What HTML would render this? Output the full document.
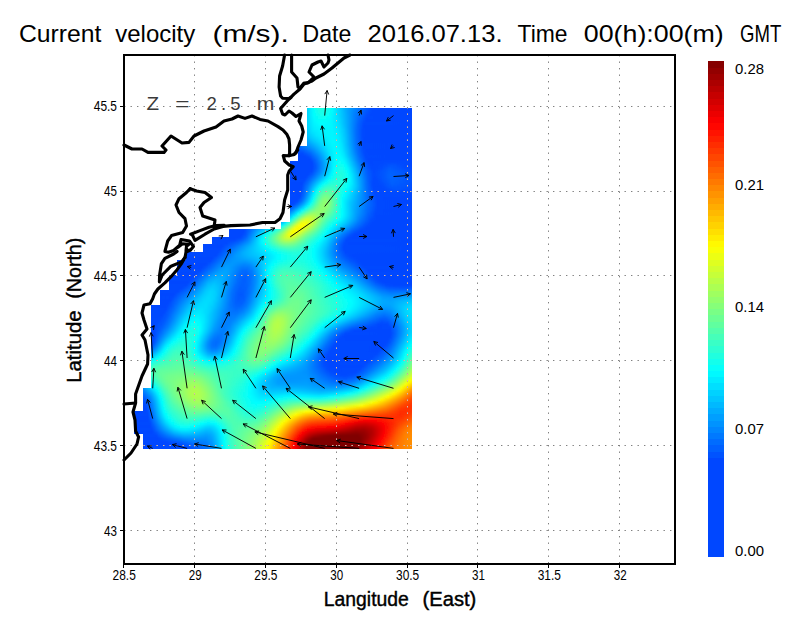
<!DOCTYPE html>
<html lang="en">
<head>
<meta charset="utf-8">
<title>Current velocity (m/s)</title>
<style>
html,body{margin:0;padding:0;background:#fff;}
body{width:800px;height:618px;overflow:hidden;}
svg{display:block;font-family:"Liberation Sans",sans-serif;}
</style>
</head>
<body>
<svg width="800" height="618" viewBox="0 0 800 618">
<rect width="800" height="618" fill="#fff"/>
<defs>
<clipPath id="msk"><path d="M412 108 L307 108 L307 116 L307 123 L307 131 L307 138 L307 146 L298 146 L298 153 L298 161 L290 161 L290 169 L290 176 L290 184 L290 191 L290 199 L290 206 L290 214 L290 222 L281 222 L281 229 L229 229 L229 237 L212 237 L212 244 L203 244 L203 252 L186 252 L186 260 L177 260 L177 267 L177 275 L169 275 L169 282 L169 290 L160 290 L160 297 L160 305 L151 305 L151 313 L151 320 L151 328 L151 335 L151 343 L151 350 L151 358 L151 366 L151 373 L151 381 L151 388 L143 388 L143 396 L143 403 L143 411 L134 411 L134 419 L134 426 L134 434 L143 434 L143 441 L143 449 L412 449Z"/></clipPath>
<filter id="vb" x="0" y="0" width="1" height="1" filterUnits="objectBoundingBox"><feGaussianBlur stdDeviation="0 1.2"/></filter>
<linearGradient id="r0" x1="0" x2="1" y1="0" y2="0"><stop offset="0.0000" stop-color="#0047ff"/><stop offset="0.4507" stop-color="#0049ff"/><stop offset="0.5000" stop-color="#005bff"/><stop offset="0.5563" stop-color="#0054ff"/><stop offset="0.5775" stop-color="#0068ff"/><stop offset="0.5986" stop-color="#0092ff"/><stop offset="0.6408" stop-color="#00f9ff"/><stop offset="0.6549" stop-color="#12ffed"/><stop offset="0.6690" stop-color="#20ffdf"/><stop offset="0.6831" stop-color="#22ffdd"/><stop offset="0.7042" stop-color="#0cfff3"/><stop offset="0.7113" stop-color="#00ffff"/><stop offset="0.7535" stop-color="#00b2ff"/><stop offset="0.8169" stop-color="#006aff"/><stop offset="0.8521" stop-color="#004aff"/><stop offset="1.0000" stop-color="#0047ff"/></linearGradient>
<linearGradient id="r1" x1="0" x2="1" y1="0" y2="0"><stop offset="0.0000" stop-color="#0047ff"/><stop offset="0.4507" stop-color="#0048ff"/><stop offset="0.5000" stop-color="#005aff"/><stop offset="0.5563" stop-color="#0054ff"/><stop offset="0.5775" stop-color="#0068ff"/><stop offset="0.6056" stop-color="#00a4ff"/><stop offset="0.6408" stop-color="#00f8ff"/><stop offset="0.6479" stop-color="#06fff9"/><stop offset="0.6690" stop-color="#1effe1"/><stop offset="0.6901" stop-color="#1bffe4"/><stop offset="0.7113" stop-color="#00feff"/><stop offset="0.7535" stop-color="#00b3ff"/><stop offset="0.8099" stop-color="#006fff"/><stop offset="0.8521" stop-color="#0049ff"/><stop offset="1.0000" stop-color="#0047ff"/></linearGradient>
<linearGradient id="r2" x1="0" x2="1" y1="0" y2="0"><stop offset="0.0000" stop-color="#0047ff"/><stop offset="0.4577" stop-color="#0048ff"/><stop offset="0.5000" stop-color="#0059ff"/><stop offset="0.5563" stop-color="#0054ff"/><stop offset="0.5704" stop-color="#005eff"/><stop offset="0.5915" stop-color="#0083ff"/><stop offset="0.6338" stop-color="#00e9ff"/><stop offset="0.6479" stop-color="#04fffb"/><stop offset="0.6690" stop-color="#19ffe6"/><stop offset="0.6901" stop-color="#16ffe9"/><stop offset="0.7113" stop-color="#00fcff"/><stop offset="0.7676" stop-color="#00a0ff"/><stop offset="0.8239" stop-color="#005cff"/><stop offset="0.8521" stop-color="#0047ff"/><stop offset="1.0000" stop-color="#0047ff"/></linearGradient>
<linearGradient id="r3" x1="0" x2="1" y1="0" y2="0"><stop offset="0.0000" stop-color="#0047ff"/><stop offset="0.4648" stop-color="#0048ff"/><stop offset="0.5070" stop-color="#0058ff"/><stop offset="0.5563" stop-color="#0053ff"/><stop offset="0.5775" stop-color="#0068ff"/><stop offset="0.6056" stop-color="#00a6ff"/><stop offset="0.6338" stop-color="#00e8ff"/><stop offset="0.6479" stop-color="#01fffe"/><stop offset="0.6690" stop-color="#13ffec"/><stop offset="0.6901" stop-color="#11ffee"/><stop offset="0.7042" stop-color="#04fffb"/><stop offset="0.7183" stop-color="#00f0ff"/><stop offset="0.7887" stop-color="#0082ff"/><stop offset="0.8310" stop-color="#0051ff"/><stop offset="0.8451" stop-color="#0047ff"/><stop offset="1.0000" stop-color="#0047ff"/></linearGradient>
<linearGradient id="r4" x1="0" x2="1" y1="0" y2="0"><stop offset="0.0000" stop-color="#0047ff"/><stop offset="0.4718" stop-color="#0047ff"/><stop offset="0.5070" stop-color="#0056ff"/><stop offset="0.5563" stop-color="#0053ff"/><stop offset="0.5775" stop-color="#0068ff"/><stop offset="0.5986" stop-color="#0095ff"/><stop offset="0.6268" stop-color="#00d9ff"/><stop offset="0.6479" stop-color="#00fcff"/><stop offset="0.6761" stop-color="#0efff1"/><stop offset="0.7042" stop-color="#00ffff"/><stop offset="0.7324" stop-color="#00dcff"/><stop offset="0.8028" stop-color="#006bff"/><stop offset="0.8310" stop-color="#004bff"/><stop offset="0.8592" stop-color="#0047ff"/><stop offset="1.0000" stop-color="#0047ff"/></linearGradient>
<linearGradient id="r5" x1="0" x2="1" y1="0" y2="0"><stop offset="0.0000" stop-color="#0047ff"/><stop offset="0.4789" stop-color="#0047ff"/><stop offset="0.5141" stop-color="#0054ff"/><stop offset="0.5563" stop-color="#0052ff"/><stop offset="0.5704" stop-color="#005eff"/><stop offset="0.5915" stop-color="#0085ff"/><stop offset="0.6268" stop-color="#00d9ff"/><stop offset="0.6479" stop-color="#00f8ff"/><stop offset="0.6620" stop-color="#04fffb"/><stop offset="0.6901" stop-color="#05fffa"/><stop offset="0.7113" stop-color="#00f6ff"/><stop offset="0.7394" stop-color="#00d5ff"/><stop offset="0.8099" stop-color="#005dff"/><stop offset="0.8310" stop-color="#0047ff"/><stop offset="1.0000" stop-color="#0047ff"/></linearGradient>
<linearGradient id="r6" x1="0" x2="1" y1="0" y2="0"><stop offset="0.0000" stop-color="#0047ff"/><stop offset="0.4859" stop-color="#0047ff"/><stop offset="0.5211" stop-color="#0051ff"/><stop offset="0.5563" stop-color="#0052ff"/><stop offset="0.5775" stop-color="#006aff"/><stop offset="0.5986" stop-color="#0097ff"/><stop offset="0.6268" stop-color="#00d8ff"/><stop offset="0.6479" stop-color="#00f4ff"/><stop offset="0.6690" stop-color="#00ffff"/><stop offset="0.7042" stop-color="#00faff"/><stop offset="0.7324" stop-color="#00e2ff"/><stop offset="0.7676" stop-color="#00a6ff"/><stop offset="0.8028" stop-color="#0064ff"/><stop offset="0.8239" stop-color="#0049ff"/><stop offset="1.0000" stop-color="#0047ff"/></linearGradient>
<linearGradient id="r7" x1="0" x2="1" y1="0" y2="0"><stop offset="0.0000" stop-color="#0047ff"/><stop offset="0.5000" stop-color="#0049ff"/><stop offset="0.5563" stop-color="#0052ff"/><stop offset="0.5704" stop-color="#0060ff"/><stop offset="0.5915" stop-color="#0087ff"/><stop offset="0.6268" stop-color="#00d6ff"/><stop offset="0.6479" stop-color="#00f0ff"/><stop offset="0.6761" stop-color="#00fbff"/><stop offset="0.7113" stop-color="#00f6ff"/><stop offset="0.7394" stop-color="#00dcff"/><stop offset="0.7746" stop-color="#0099ff"/><stop offset="0.8028" stop-color="#0062ff"/><stop offset="0.8239" stop-color="#0047ff"/><stop offset="1.0000" stop-color="#0047ff"/></linearGradient>
<linearGradient id="r8" x1="0" x2="1" y1="0" y2="0"><stop offset="0.0000" stop-color="#0047ff"/><stop offset="0.5352" stop-color="#004aff"/><stop offset="0.5634" stop-color="#0058ff"/><stop offset="0.5845" stop-color="#0079ff"/><stop offset="0.6268" stop-color="#00d3ff"/><stop offset="0.6479" stop-color="#00ecff"/><stop offset="0.6761" stop-color="#00f7ff"/><stop offset="0.7113" stop-color="#00f6ff"/><stop offset="0.7324" stop-color="#00e8ff"/><stop offset="0.7535" stop-color="#00c7ff"/><stop offset="0.7958" stop-color="#006dff"/><stop offset="0.8169" stop-color="#004dff"/><stop offset="0.8310" stop-color="#0047ff"/><stop offset="1.0000" stop-color="#0047ff"/></linearGradient>
<linearGradient id="r9" x1="0" x2="1" y1="0" y2="0"><stop offset="0.0000" stop-color="#0047ff"/><stop offset="0.5423" stop-color="#0049ff"/><stop offset="0.5634" stop-color="#0058ff"/><stop offset="0.5845" stop-color="#0078ff"/><stop offset="0.6197" stop-color="#00c1ff"/><stop offset="0.6408" stop-color="#00e0ff"/><stop offset="0.6761" stop-color="#00f4ff"/><stop offset="0.7113" stop-color="#00f7ff"/><stop offset="0.7324" stop-color="#00ebff"/><stop offset="0.7535" stop-color="#00caff"/><stop offset="0.7958" stop-color="#006dff"/><stop offset="0.8169" stop-color="#004dff"/><stop offset="0.8310" stop-color="#0047ff"/><stop offset="1.0000" stop-color="#0047ff"/></linearGradient>
<linearGradient id="r10" x1="0" x2="1" y1="0" y2="0"><stop offset="0.0000" stop-color="#0047ff"/><stop offset="0.5423" stop-color="#0047ff"/><stop offset="0.5634" stop-color="#0057ff"/><stop offset="0.5845" stop-color="#0076ff"/><stop offset="0.6268" stop-color="#00c6ff"/><stop offset="0.6549" stop-color="#00e4ff"/><stop offset="0.6972" stop-color="#00f7ff"/><stop offset="0.7254" stop-color="#00f3ff"/><stop offset="0.7394" stop-color="#00e5ff"/><stop offset="0.7606" stop-color="#00beff"/><stop offset="0.7958" stop-color="#006eff"/><stop offset="0.8169" stop-color="#004dff"/><stop offset="0.8310" stop-color="#0047ff"/><stop offset="1.0000" stop-color="#0047ff"/></linearGradient>
<linearGradient id="r11" x1="0" x2="1" y1="0" y2="0"><stop offset="0.0000" stop-color="#0047ff"/><stop offset="0.5493" stop-color="#0048ff"/><stop offset="0.5775" stop-color="#0067ff"/><stop offset="0.6338" stop-color="#00c4ff"/><stop offset="0.6690" stop-color="#00e5ff"/><stop offset="0.7113" stop-color="#00f9ff"/><stop offset="0.7324" stop-color="#00f0ff"/><stop offset="0.7535" stop-color="#00d0ff"/><stop offset="0.7958" stop-color="#006fff"/><stop offset="0.8169" stop-color="#004eff"/><stop offset="0.8239" stop-color="#0047ff"/><stop offset="1.0000" stop-color="#0047ff"/></linearGradient>
<linearGradient id="r12" x1="0" x2="1" y1="0" y2="0"><stop offset="0.0000" stop-color="#0047ff"/><stop offset="0.5493" stop-color="#0047ff"/><stop offset="0.5775" stop-color="#0062ff"/><stop offset="0.6479" stop-color="#00c6ff"/><stop offset="0.6972" stop-color="#00f2ff"/><stop offset="0.7183" stop-color="#00f9ff"/><stop offset="0.7394" stop-color="#00eaff"/><stop offset="0.7606" stop-color="#00c3ff"/><stop offset="0.7958" stop-color="#0070ff"/><stop offset="0.8169" stop-color="#004fff"/><stop offset="0.8239" stop-color="#0047ff"/><stop offset="1.0000" stop-color="#0047ff"/></linearGradient>
<linearGradient id="r13" x1="0" x2="1" y1="0" y2="0"><stop offset="0.0000" stop-color="#0047ff"/><stop offset="0.5563" stop-color="#0047ff"/><stop offset="0.5986" stop-color="#0073ff"/><stop offset="0.6831" stop-color="#00e0ff"/><stop offset="0.7113" stop-color="#00f7ff"/><stop offset="0.7324" stop-color="#00f4ff"/><stop offset="0.7465" stop-color="#00e3ff"/><stop offset="0.7746" stop-color="#00a4ff"/><stop offset="0.7958" stop-color="#0072ff"/><stop offset="0.8169" stop-color="#0050ff"/><stop offset="0.8239" stop-color="#0048ff"/><stop offset="1.0000" stop-color="#0047ff"/></linearGradient>
<linearGradient id="r14" x1="0" x2="1" y1="0" y2="0"><stop offset="0.0000" stop-color="#0047ff"/><stop offset="0.5634" stop-color="#0047ff"/><stop offset="0.6056" stop-color="#006bff"/><stop offset="0.6479" stop-color="#00a1ff"/><stop offset="0.6972" stop-color="#00e8ff"/><stop offset="0.7183" stop-color="#00f8ff"/><stop offset="0.7324" stop-color="#00f6ff"/><stop offset="0.7465" stop-color="#00e6ff"/><stop offset="0.7676" stop-color="#00b9ff"/><stop offset="0.7958" stop-color="#0075ff"/><stop offset="0.8169" stop-color="#0051ff"/><stop offset="0.8239" stop-color="#0048ff"/><stop offset="1.0000" stop-color="#0047ff"/></linearGradient>
<linearGradient id="r15" x1="0" x2="1" y1="0" y2="0"><stop offset="0.0000" stop-color="#0047ff"/><stop offset="0.5775" stop-color="#0048ff"/><stop offset="0.6127" stop-color="#0060ff"/><stop offset="0.6408" stop-color="#0082ff"/><stop offset="0.6972" stop-color="#00e2ff"/><stop offset="0.7183" stop-color="#00f7ff"/><stop offset="0.7324" stop-color="#00f8ff"/><stop offset="0.7465" stop-color="#00eaff"/><stop offset="0.7676" stop-color="#00beff"/><stop offset="0.7958" stop-color="#0078ff"/><stop offset="0.8169" stop-color="#0052ff"/><stop offset="0.8310" stop-color="#0047ff"/><stop offset="1.0000" stop-color="#0047ff"/></linearGradient>
<linearGradient id="r16" x1="0" x2="1" y1="0" y2="0"><stop offset="0.0000" stop-color="#0047ff"/><stop offset="0.6056" stop-color="#0049ff"/><stop offset="0.6338" stop-color="#0064ff"/><stop offset="0.6620" stop-color="#0095ff"/><stop offset="0.7042" stop-color="#00e6ff"/><stop offset="0.7254" stop-color="#00faff"/><stop offset="0.7394" stop-color="#00f6ff"/><stop offset="0.7535" stop-color="#00e3ff"/><stop offset="0.8028" stop-color="#006eff"/><stop offset="0.8239" stop-color="#004cff"/><stop offset="0.8380" stop-color="#0047ff"/><stop offset="1.0000" stop-color="#0047ff"/></linearGradient>
<linearGradient id="r17" x1="0" x2="1" y1="0" y2="0"><stop offset="0.0000" stop-color="#0047ff"/><stop offset="0.6197" stop-color="#0047ff"/><stop offset="0.6338" stop-color="#0053ff"/><stop offset="0.6620" stop-color="#0085ff"/><stop offset="0.7042" stop-color="#00e1ff"/><stop offset="0.7254" stop-color="#00fcff"/><stop offset="0.7394" stop-color="#00fbff"/><stop offset="0.7535" stop-color="#00eaff"/><stop offset="0.7817" stop-color="#00a8ff"/><stop offset="0.8099" stop-color="#0066ff"/><stop offset="0.8310" stop-color="#0048ff"/><stop offset="1.0000" stop-color="#0047ff"/></linearGradient>
<linearGradient id="r18" x1="0" x2="1" y1="0" y2="0"><stop offset="0.0000" stop-color="#0047ff"/><stop offset="0.6338" stop-color="#0047ff"/><stop offset="0.6549" stop-color="#0069ff"/><stop offset="0.7113" stop-color="#00ebff"/><stop offset="0.7254" stop-color="#00feff"/><stop offset="0.7465" stop-color="#00fcff"/><stop offset="0.7606" stop-color="#00e6ff"/><stop offset="0.8028" stop-color="#007cff"/><stop offset="0.8239" stop-color="#0055ff"/><stop offset="0.8380" stop-color="#0047ff"/><stop offset="1.0000" stop-color="#0047ff"/></linearGradient>
<linearGradient id="r19" x1="0" x2="1" y1="0" y2="0"><stop offset="0.0000" stop-color="#0047ff"/><stop offset="0.6408" stop-color="#0047ff"/><stop offset="0.6690" stop-color="#007eff"/><stop offset="0.7113" stop-color="#00eaff"/><stop offset="0.7254" stop-color="#02fffd"/><stop offset="0.7394" stop-color="#09fff6"/><stop offset="0.7535" stop-color="#00fcff"/><stop offset="0.7746" stop-color="#00cfff"/><stop offset="0.8099" stop-color="#0075ff"/><stop offset="0.8310" stop-color="#0051ff"/><stop offset="0.8451" stop-color="#0047ff"/><stop offset="0.9014" stop-color="#004bff"/><stop offset="0.9366" stop-color="#004bff"/><stop offset="0.9930" stop-color="#0047ff"/><stop offset="1.0000" stop-color="#0047ff"/></linearGradient>
<linearGradient id="r20" x1="0" x2="1" y1="0" y2="0"><stop offset="0.0000" stop-color="#0047ff"/><stop offset="0.6408" stop-color="#0047ff"/><stop offset="0.6549" stop-color="#005bff"/><stop offset="0.6831" stop-color="#009eff"/><stop offset="0.7113" stop-color="#00eaff"/><stop offset="0.7183" stop-color="#00f9ff"/><stop offset="0.7324" stop-color="#0efff1"/><stop offset="0.7465" stop-color="#0efff1"/><stop offset="0.7606" stop-color="#00faff"/><stop offset="0.7887" stop-color="#00b4ff"/><stop offset="0.8169" stop-color="#006fff"/><stop offset="0.8380" stop-color="#004fff"/><stop offset="0.8521" stop-color="#0047ff"/><stop offset="0.8873" stop-color="#004cff"/><stop offset="0.9225" stop-color="#0055ff"/><stop offset="0.9789" stop-color="#0047ff"/><stop offset="1.0000" stop-color="#0047ff"/></linearGradient>
<linearGradient id="r21" x1="0" x2="1" y1="0" y2="0"><stop offset="0.0000" stop-color="#0047ff"/><stop offset="0.6408" stop-color="#0047ff"/><stop offset="0.6549" stop-color="#005cff"/><stop offset="0.6831" stop-color="#009fff"/><stop offset="0.7183" stop-color="#00feff"/><stop offset="0.7324" stop-color="#13ffec"/><stop offset="0.7465" stop-color="#15ffea"/><stop offset="0.7606" stop-color="#04fffb"/><stop offset="0.7676" stop-color="#00f5ff"/><stop offset="0.8169" stop-color="#0077ff"/><stop offset="0.8380" stop-color="#0054ff"/><stop offset="0.8521" stop-color="#0048ff"/><stop offset="0.8803" stop-color="#004cff"/><stop offset="0.9155" stop-color="#005cff"/><stop offset="0.9648" stop-color="#004eff"/><stop offset="1.0000" stop-color="#0047ff"/></linearGradient>
<linearGradient id="r22" x1="0" x2="1" y1="0" y2="0"><stop offset="0.0000" stop-color="#0047ff"/><stop offset="0.6338" stop-color="#0047ff"/><stop offset="0.6408" stop-color="#004bff"/><stop offset="0.6690" stop-color="#0083ff"/><stop offset="0.7113" stop-color="#00f4ff"/><stop offset="0.7183" stop-color="#04fffb"/><stop offset="0.7324" stop-color="#19ffe6"/><stop offset="0.7465" stop-color="#1cffe3"/><stop offset="0.7606" stop-color="#0cfff3"/><stop offset="0.7676" stop-color="#00fdff"/><stop offset="0.8169" stop-color="#007fff"/><stop offset="0.8380" stop-color="#0058ff"/><stop offset="0.8592" stop-color="#0049ff"/><stop offset="0.8873" stop-color="#0053ff"/><stop offset="0.9155" stop-color="#0060ff"/><stop offset="0.9507" stop-color="#0059ff"/><stop offset="1.0000" stop-color="#004aff"/></linearGradient>
<linearGradient id="r23" x1="0" x2="1" y1="0" y2="0"><stop offset="0.0000" stop-color="#0047ff"/><stop offset="0.6268" stop-color="#0047ff"/><stop offset="0.6408" stop-color="#0058ff"/><stop offset="0.6690" stop-color="#0092ff"/><stop offset="0.7113" stop-color="#00fdff"/><stop offset="0.7324" stop-color="#1effe1"/><stop offset="0.7465" stop-color="#20ffdf"/><stop offset="0.7606" stop-color="#11ffee"/><stop offset="0.7676" stop-color="#04fffb"/><stop offset="0.7817" stop-color="#00e2ff"/><stop offset="0.8239" stop-color="#0075ff"/><stop offset="0.8380" stop-color="#005bff"/><stop offset="0.8592" stop-color="#004aff"/><stop offset="0.8873" stop-color="#0054ff"/><stop offset="0.9155" stop-color="#0063ff"/><stop offset="0.9507" stop-color="#005cff"/><stop offset="1.0000" stop-color="#004dff"/></linearGradient>
<linearGradient id="r24" x1="0" x2="1" y1="0" y2="0"><stop offset="0.0000" stop-color="#0047ff"/><stop offset="0.6197" stop-color="#0047ff"/><stop offset="0.6479" stop-color="#0077ff"/><stop offset="0.7042" stop-color="#00fcff"/><stop offset="0.7254" stop-color="#1effe1"/><stop offset="0.7394" stop-color="#24ffdb"/><stop offset="0.7535" stop-color="#1cffe3"/><stop offset="0.7676" stop-color="#07fff8"/><stop offset="0.7746" stop-color="#00f7ff"/><stop offset="0.8239" stop-color="#007aff"/><stop offset="0.8380" stop-color="#005eff"/><stop offset="0.8592" stop-color="#0049ff"/><stop offset="0.8873" stop-color="#0053ff"/><stop offset="0.9155" stop-color="#0063ff"/><stop offset="0.9507" stop-color="#005eff"/><stop offset="1.0000" stop-color="#004fff"/></linearGradient>
<linearGradient id="r25" x1="0" x2="1" y1="0" y2="0"><stop offset="0.0000" stop-color="#0047ff"/><stop offset="0.6127" stop-color="#0048ff"/><stop offset="0.6338" stop-color="#006dff"/><stop offset="0.6901" stop-color="#00f5ff"/><stop offset="0.6972" stop-color="#04fffb"/><stop offset="0.7183" stop-color="#20ffdf"/><stop offset="0.7394" stop-color="#26ffd9"/><stop offset="0.7606" stop-color="#12ffed"/><stop offset="0.7676" stop-color="#07fff8"/><stop offset="0.7746" stop-color="#00f8ff"/><stop offset="0.8099" stop-color="#00a1ff"/><stop offset="0.8380" stop-color="#005fff"/><stop offset="0.8521" stop-color="#004dff"/><stop offset="0.8662" stop-color="#0047ff"/><stop offset="0.9225" stop-color="#0062ff"/><stop offset="0.9648" stop-color="#0059ff"/><stop offset="1.0000" stop-color="#0050ff"/></linearGradient>
<linearGradient id="r26" x1="0" x2="1" y1="0" y2="0"><stop offset="0.0000" stop-color="#0047ff"/><stop offset="0.6056" stop-color="#0047ff"/><stop offset="0.6268" stop-color="#006dff"/><stop offset="0.6761" stop-color="#00f3ff"/><stop offset="0.6831" stop-color="#04fffb"/><stop offset="0.7042" stop-color="#23ffdc"/><stop offset="0.7254" stop-color="#2bffd4"/><stop offset="0.7465" stop-color="#20ffdf"/><stop offset="0.7676" stop-color="#04fffb"/><stop offset="0.7817" stop-color="#00e9ff"/><stop offset="0.8310" stop-color="#006fff"/><stop offset="0.8451" stop-color="#0055ff"/><stop offset="0.8592" stop-color="#0047ff"/><stop offset="0.8873" stop-color="#004dff"/><stop offset="0.9225" stop-color="#005fff"/><stop offset="0.9718" stop-color="#0056ff"/><stop offset="1.0000" stop-color="#004fff"/></linearGradient>
<linearGradient id="r27" x1="0" x2="1" y1="0" y2="0"><stop offset="0.0000" stop-color="#0047ff"/><stop offset="0.5986" stop-color="#0047ff"/><stop offset="0.6056" stop-color="#004bff"/><stop offset="0.6268" stop-color="#007bff"/><stop offset="0.6690" stop-color="#01fffe"/><stop offset="0.6831" stop-color="#22ffdd"/><stop offset="0.6972" stop-color="#34ffcb"/><stop offset="0.7183" stop-color="#36ffc9"/><stop offset="0.7465" stop-color="#1dffe2"/><stop offset="0.7676" stop-color="#00feff"/><stop offset="0.7958" stop-color="#00c7ff"/><stop offset="0.8310" stop-color="#0070ff"/><stop offset="0.8521" stop-color="#004dff"/><stop offset="0.8662" stop-color="#0047ff"/><stop offset="0.8873" stop-color="#004aff"/><stop offset="0.9225" stop-color="#005aff"/><stop offset="0.9718" stop-color="#0053ff"/><stop offset="1.0000" stop-color="#004dff"/></linearGradient>
<linearGradient id="r28" x1="0" x2="1" y1="0" y2="0"><stop offset="0.0000" stop-color="#0047ff"/><stop offset="0.5986" stop-color="#0047ff"/><stop offset="0.6056" stop-color="#004eff"/><stop offset="0.6268" stop-color="#0087ff"/><stop offset="0.6549" stop-color="#00eeff"/><stop offset="0.6620" stop-color="#08fff7"/><stop offset="0.6761" stop-color="#30ffcf"/><stop offset="0.6901" stop-color="#47ffb8"/><stop offset="0.7042" stop-color="#4bffb4"/><stop offset="0.7254" stop-color="#37ffc8"/><stop offset="0.7606" stop-color="#03fffc"/><stop offset="0.7817" stop-color="#00dfff"/><stop offset="0.8169" stop-color="#0092ff"/><stop offset="0.8380" stop-color="#0063ff"/><stop offset="0.8592" stop-color="#0048ff"/><stop offset="0.8944" stop-color="#004aff"/><stop offset="0.9366" stop-color="#0054ff"/><stop offset="1.0000" stop-color="#004bff"/></linearGradient>
<linearGradient id="r29" x1="0" x2="1" y1="0" y2="0"><stop offset="0.0000" stop-color="#0047ff"/><stop offset="0.5986" stop-color="#0047ff"/><stop offset="0.6056" stop-color="#0051ff"/><stop offset="0.6197" stop-color="#0079ff"/><stop offset="0.6408" stop-color="#00caff"/><stop offset="0.6479" stop-color="#00e8ff"/><stop offset="0.6549" stop-color="#06fff9"/><stop offset="0.6690" stop-color="#38ffc7"/><stop offset="0.6831" stop-color="#58ffa7"/><stop offset="0.6972" stop-color="#60ff9f"/><stop offset="0.7113" stop-color="#54ffab"/><stop offset="0.7535" stop-color="#06fff9"/><stop offset="0.7676" stop-color="#00eeff"/><stop offset="0.8028" stop-color="#00afff"/><stop offset="0.8380" stop-color="#0066ff"/><stop offset="0.8592" stop-color="#004aff"/><stop offset="0.9085" stop-color="#004aff"/><stop offset="0.9718" stop-color="#004aff"/><stop offset="1.0000" stop-color="#0047ff"/></linearGradient>
<linearGradient id="r30" x1="0" x2="1" y1="0" y2="0"><stop offset="0.0000" stop-color="#0047ff"/><stop offset="0.4648" stop-color="#004aff"/><stop offset="0.5070" stop-color="#004aff"/><stop offset="0.5986" stop-color="#0047ff"/><stop offset="0.6127" stop-color="#006aff"/><stop offset="0.6268" stop-color="#009eff"/><stop offset="0.6479" stop-color="#00fbff"/><stop offset="0.6690" stop-color="#4fffb0"/><stop offset="0.6761" stop-color="#62ff9d"/><stop offset="0.6831" stop-color="#6eff91"/><stop offset="0.6972" stop-color="#72ff8d"/><stop offset="0.7113" stop-color="#5fffa0"/><stop offset="0.7465" stop-color="#0cfff3"/><stop offset="0.7535" stop-color="#00fdff"/><stop offset="0.8169" stop-color="#008eff"/><stop offset="0.8451" stop-color="#005dff"/><stop offset="0.8662" stop-color="#0049ff"/><stop offset="1.0000" stop-color="#0047ff"/></linearGradient>
<linearGradient id="r31" x1="0" x2="1" y1="0" y2="0"><stop offset="0.0000" stop-color="#0047ff"/><stop offset="0.3662" stop-color="#004aff"/><stop offset="0.4577" stop-color="#004eff"/><stop offset="0.5000" stop-color="#0056ff"/><stop offset="0.5352" stop-color="#0047ff"/><stop offset="0.5915" stop-color="#0047ff"/><stop offset="0.5986" stop-color="#004eff"/><stop offset="0.6127" stop-color="#0077ff"/><stop offset="0.6338" stop-color="#00ceff"/><stop offset="0.6408" stop-color="#00eeff"/><stop offset="0.6479" stop-color="#10ffef"/><stop offset="0.6620" stop-color="#4cffb3"/><stop offset="0.6761" stop-color="#75ff8a"/><stop offset="0.6831" stop-color="#80ff7f"/><stop offset="0.6901" stop-color="#83ff7c"/><stop offset="0.7042" stop-color="#75ff8a"/><stop offset="0.7254" stop-color="#40ffbf"/><stop offset="0.7465" stop-color="#07fff8"/><stop offset="0.7535" stop-color="#00f6ff"/><stop offset="0.8380" stop-color="#006aff"/><stop offset="0.8662" stop-color="#004bff"/><stop offset="0.8944" stop-color="#0047ff"/><stop offset="1.0000" stop-color="#0047ff"/></linearGradient>
<linearGradient id="r32" x1="0" x2="1" y1="0" y2="0"><stop offset="0.0000" stop-color="#0047ff"/><stop offset="0.3592" stop-color="#0049ff"/><stop offset="0.4155" stop-color="#004fff"/><stop offset="0.4577" stop-color="#0051ff"/><stop offset="0.5000" stop-color="#005aff"/><stop offset="0.5352" stop-color="#0047ff"/><stop offset="0.5845" stop-color="#0047ff"/><stop offset="0.5915" stop-color="#004fff"/><stop offset="0.6056" stop-color="#0075ff"/><stop offset="0.6268" stop-color="#00c6ff"/><stop offset="0.6338" stop-color="#00e6ff"/><stop offset="0.6408" stop-color="#07fff8"/><stop offset="0.6620" stop-color="#5effa1"/><stop offset="0.6690" stop-color="#74ff8b"/><stop offset="0.6831" stop-color="#8cff73"/><stop offset="0.6901" stop-color="#8dff72"/><stop offset="0.7042" stop-color="#7bff84"/><stop offset="0.7324" stop-color="#2bffd4"/><stop offset="0.7465" stop-color="#04fffb"/><stop offset="0.7746" stop-color="#00c9ff"/><stop offset="0.8451" stop-color="#0062ff"/><stop offset="0.8732" stop-color="#0048ff"/><stop offset="1.0000" stop-color="#0047ff"/></linearGradient>
<linearGradient id="r33" x1="0" x2="1" y1="0" y2="0"><stop offset="0.0000" stop-color="#0047ff"/><stop offset="0.3592" stop-color="#004aff"/><stop offset="0.4155" stop-color="#0052ff"/><stop offset="0.4648" stop-color="#0052ff"/><stop offset="0.5000" stop-color="#0059ff"/><stop offset="0.5282" stop-color="#004cff"/><stop offset="0.5423" stop-color="#0047ff"/><stop offset="0.5704" stop-color="#0047ff"/><stop offset="0.5775" stop-color="#004dff"/><stop offset="0.5915" stop-color="#006bff"/><stop offset="0.6127" stop-color="#00b0ff"/><stop offset="0.6268" stop-color="#00e8ff"/><stop offset="0.6338" stop-color="#07fff8"/><stop offset="0.6549" stop-color="#5affa5"/><stop offset="0.6690" stop-color="#81ff7e"/><stop offset="0.6831" stop-color="#91ff6e"/><stop offset="0.6901" stop-color="#90ff6f"/><stop offset="0.7042" stop-color="#7bff84"/><stop offset="0.7465" stop-color="#02fffd"/><stop offset="0.7746" stop-color="#00c6ff"/><stop offset="0.8310" stop-color="#0074ff"/><stop offset="0.8732" stop-color="#0048ff"/><stop offset="1.0000" stop-color="#0047ff"/></linearGradient>
<linearGradient id="r34" x1="0" x2="1" y1="0" y2="0"><stop offset="0.0000" stop-color="#0047ff"/><stop offset="0.3521" stop-color="#0048ff"/><stop offset="0.4014" stop-color="#0056ff"/><stop offset="0.4718" stop-color="#004fff"/><stop offset="0.5211" stop-color="#004eff"/><stop offset="0.5493" stop-color="#004bff"/><stop offset="0.5704" stop-color="#0060ff"/><stop offset="0.5845" stop-color="#007fff"/><stop offset="0.6056" stop-color="#00c4ff"/><stop offset="0.6197" stop-color="#00f9ff"/><stop offset="0.6338" stop-color="#2fffd0"/><stop offset="0.6549" stop-color="#70ff8f"/><stop offset="0.6690" stop-color="#8aff75"/><stop offset="0.6831" stop-color="#91ff6e"/><stop offset="0.6972" stop-color="#83ff7c"/><stop offset="0.7183" stop-color="#51ffae"/><stop offset="0.7465" stop-color="#02fffd"/><stop offset="0.7817" stop-color="#00b9ff"/><stop offset="0.8380" stop-color="#0069ff"/><stop offset="0.8732" stop-color="#0048ff"/><stop offset="1.0000" stop-color="#0047ff"/></linearGradient>
<linearGradient id="r35" x1="0" x2="1" y1="0" y2="0"><stop offset="0.0000" stop-color="#0047ff"/><stop offset="0.3521" stop-color="#0048ff"/><stop offset="0.4014" stop-color="#005aff"/><stop offset="0.4930" stop-color="#0047ff"/><stop offset="0.5282" stop-color="#004cff"/><stop offset="0.5493" stop-color="#005cff"/><stop offset="0.5704" stop-color="#0083ff"/><stop offset="0.5915" stop-color="#00c6ff"/><stop offset="0.6056" stop-color="#00fbff"/><stop offset="0.6338" stop-color="#5dffa2"/><stop offset="0.6549" stop-color="#87ff78"/><stop offset="0.6690" stop-color="#90ff6f"/><stop offset="0.6831" stop-color="#8bff74"/><stop offset="0.7042" stop-color="#6aff95"/><stop offset="0.7465" stop-color="#02fffd"/><stop offset="0.7887" stop-color="#00acff"/><stop offset="0.8310" stop-color="#006fff"/><stop offset="0.8662" stop-color="#004bff"/><stop offset="0.8944" stop-color="#0047ff"/><stop offset="1.0000" stop-color="#0047ff"/></linearGradient>
<linearGradient id="r36" x1="0" x2="1" y1="0" y2="0"><stop offset="0.0000" stop-color="#0047ff"/><stop offset="0.3521" stop-color="#0048ff"/><stop offset="0.4014" stop-color="#005cff"/><stop offset="0.4437" stop-color="#0053ff"/><stop offset="0.4789" stop-color="#0047ff"/><stop offset="0.5141" stop-color="#0047ff"/><stop offset="0.5352" stop-color="#005aff"/><stop offset="0.5563" stop-color="#0084ff"/><stop offset="0.5775" stop-color="#00c6ff"/><stop offset="0.5915" stop-color="#00feff"/><stop offset="0.6197" stop-color="#6bff94"/><stop offset="0.6338" stop-color="#8dff72"/><stop offset="0.6479" stop-color="#9bff64"/><stop offset="0.6690" stop-color="#92ff6d"/><stop offset="0.6972" stop-color="#69ff96"/><stop offset="0.7465" stop-color="#01fffe"/><stop offset="0.7958" stop-color="#009fff"/><stop offset="0.8380" stop-color="#0063ff"/><stop offset="0.8662" stop-color="#0048ff"/><stop offset="1.0000" stop-color="#0047ff"/></linearGradient>
<linearGradient id="r37" x1="0" x2="1" y1="0" y2="0"><stop offset="0.0000" stop-color="#0047ff"/><stop offset="0.3592" stop-color="#004aff"/><stop offset="0.4014" stop-color="#005cff"/><stop offset="0.4366" stop-color="#005aff"/><stop offset="0.4859" stop-color="#0047ff"/><stop offset="0.5070" stop-color="#0048ff"/><stop offset="0.5282" stop-color="#0060ff"/><stop offset="0.5493" stop-color="#0093ff"/><stop offset="0.5634" stop-color="#00c1ff"/><stop offset="0.5775" stop-color="#00faff"/><stop offset="0.5845" stop-color="#1affe5"/><stop offset="0.6056" stop-color="#78ff87"/><stop offset="0.6197" stop-color="#a6ff59"/><stop offset="0.6268" stop-color="#b3ff4c"/><stop offset="0.6338" stop-color="#b9ff46"/><stop offset="0.6479" stop-color="#b2ff4d"/><stop offset="0.7394" stop-color="#0afff5"/><stop offset="0.7465" stop-color="#00fbff"/><stop offset="0.8028" stop-color="#008eff"/><stop offset="0.8380" stop-color="#005dff"/><stop offset="0.8662" stop-color="#0047ff"/><stop offset="1.0000" stop-color="#0047ff"/></linearGradient>
<linearGradient id="r38" x1="0" x2="1" y1="0" y2="0"><stop offset="0.0000" stop-color="#0047ff"/><stop offset="0.3662" stop-color="#0049ff"/><stop offset="0.4155" stop-color="#005eff"/><stop offset="0.4577" stop-color="#005cff"/><stop offset="0.4930" stop-color="#0054ff"/><stop offset="0.5141" stop-color="#0064ff"/><stop offset="0.5282" stop-color="#007eff"/><stop offset="0.5423" stop-color="#00a4ff"/><stop offset="0.5634" stop-color="#00f3ff"/><stop offset="0.5704" stop-color="#13ffec"/><stop offset="0.5986" stop-color="#9bff64"/><stop offset="0.6056" stop-color="#b7ff48"/><stop offset="0.6127" stop-color="#ccff33"/><stop offset="0.6197" stop-color="#d8ff27"/><stop offset="0.6268" stop-color="#dbff24"/><stop offset="0.6408" stop-color="#cbff34"/><stop offset="0.6901" stop-color="#51ffae"/><stop offset="0.7324" stop-color="#0afff5"/><stop offset="0.7394" stop-color="#00fdff"/><stop offset="0.8099" stop-color="#007bff"/><stop offset="0.8451" stop-color="#0050ff"/><stop offset="0.8662" stop-color="#0047ff"/><stop offset="1.0000" stop-color="#0047ff"/></linearGradient>
<linearGradient id="r39" x1="0" x2="1" y1="0" y2="0"><stop offset="0.0000" stop-color="#0047ff"/><stop offset="0.3803" stop-color="#0049ff"/><stop offset="0.4507" stop-color="#006dff"/><stop offset="0.4930" stop-color="#0074ff"/><stop offset="0.5141" stop-color="#008bff"/><stop offset="0.5352" stop-color="#00beff"/><stop offset="0.5493" stop-color="#00f0ff"/><stop offset="0.5563" stop-color="#0efff1"/><stop offset="0.5775" stop-color="#76ff89"/><stop offset="0.5915" stop-color="#bcff43"/><stop offset="0.5986" stop-color="#d8ff27"/><stop offset="0.6056" stop-color="#ebff14"/><stop offset="0.6127" stop-color="#f4ff0b"/><stop offset="0.6197" stop-color="#f4ff0b"/><stop offset="0.6338" stop-color="#dcff23"/><stop offset="0.6761" stop-color="#61ff9e"/><stop offset="0.6972" stop-color="#30ffcf"/><stop offset="0.7254" stop-color="#03fffc"/><stop offset="0.7535" stop-color="#00d4ff"/><stop offset="0.8028" stop-color="#007aff"/><stop offset="0.8310" stop-color="#0057ff"/><stop offset="0.8521" stop-color="#0047ff"/><stop offset="1.0000" stop-color="#0047ff"/></linearGradient>
<linearGradient id="r40" x1="0" x2="1" y1="0" y2="0"><stop offset="0.0000" stop-color="#0047ff"/><stop offset="0.3944" stop-color="#0049ff"/><stop offset="0.4648" stop-color="#008dff"/><stop offset="0.5000" stop-color="#00a9ff"/><stop offset="0.5211" stop-color="#00cfff"/><stop offset="0.5352" stop-color="#00f8ff"/><stop offset="0.5423" stop-color="#12ffed"/><stop offset="0.5634" stop-color="#72ff8d"/><stop offset="0.5775" stop-color="#bbff44"/><stop offset="0.5845" stop-color="#daff25"/><stop offset="0.5915" stop-color="#f1ff0e"/><stop offset="0.5986" stop-color="#ffff00"/><stop offset="0.6127" stop-color="#fcff03"/><stop offset="0.6268" stop-color="#ddff22"/><stop offset="0.6761" stop-color="#4effb1"/><stop offset="0.7042" stop-color="#10ffef"/><stop offset="0.7113" stop-color="#04fffb"/><stop offset="0.7324" stop-color="#00e2ff"/><stop offset="0.7958" stop-color="#0075ff"/><stop offset="0.8239" stop-color="#0054ff"/><stop offset="0.8451" stop-color="#0047ff"/><stop offset="1.0000" stop-color="#0047ff"/></linearGradient>
<linearGradient id="r41" x1="0" x2="1" y1="0" y2="0"><stop offset="0.0000" stop-color="#0047ff"/><stop offset="0.4014" stop-color="#0049ff"/><stop offset="0.4296" stop-color="#0073ff"/><stop offset="0.4718" stop-color="#00b7ff"/><stop offset="0.5070" stop-color="#00ebff"/><stop offset="0.5141" stop-color="#00faff"/><stop offset="0.5211" stop-color="#0cfff3"/><stop offset="0.5352" stop-color="#38ffc7"/><stop offset="0.5563" stop-color="#94ff6b"/><stop offset="0.5704" stop-color="#d6ff29"/><stop offset="0.5775" stop-color="#f0ff0f"/><stop offset="0.5845" stop-color="#fffe00"/><stop offset="0.5915" stop-color="#fff800"/><stop offset="0.5986" stop-color="#fffc00"/><stop offset="0.6056" stop-color="#f6ff09"/><stop offset="0.6690" stop-color="#4cffb3"/><stop offset="0.6972" stop-color="#0bfff4"/><stop offset="0.7042" stop-color="#00fdff"/><stop offset="0.7817" stop-color="#0075ff"/><stop offset="0.8099" stop-color="#0054ff"/><stop offset="0.8310" stop-color="#0047ff"/><stop offset="1.0000" stop-color="#0047ff"/></linearGradient>
<linearGradient id="r42" x1="0" x2="1" y1="0" y2="0"><stop offset="0.0000" stop-color="#0047ff"/><stop offset="0.4014" stop-color="#0047ff"/><stop offset="0.4225" stop-color="#006dff"/><stop offset="0.4718" stop-color="#00dbff"/><stop offset="0.4930" stop-color="#04fffb"/><stop offset="0.5141" stop-color="#32ffcd"/><stop offset="0.5352" stop-color="#74ff8b"/><stop offset="0.5563" stop-color="#cdff32"/><stop offset="0.5704" stop-color="#f9ff06"/><stop offset="0.5845" stop-color="#fffe00"/><stop offset="0.5915" stop-color="#f6ff09"/><stop offset="0.6268" stop-color="#94ff6b"/><stop offset="0.6901" stop-color="#09fff6"/><stop offset="0.6972" stop-color="#00f9ff"/><stop offset="0.7535" stop-color="#008bff"/><stop offset="0.7887" stop-color="#0057ff"/><stop offset="0.8099" stop-color="#0047ff"/><stop offset="1.0000" stop-color="#0047ff"/></linearGradient>
<linearGradient id="r43" x1="0" x2="1" y1="0" y2="0"><stop offset="0.0000" stop-color="#0047ff"/><stop offset="0.3944" stop-color="#0047ff"/><stop offset="0.4085" stop-color="#0057ff"/><stop offset="0.4366" stop-color="#009bff"/><stop offset="0.4718" stop-color="#00f7ff"/><stop offset="0.4789" stop-color="#08fff7"/><stop offset="0.5141" stop-color="#5cffa3"/><stop offset="0.5352" stop-color="#a0ff5f"/><stop offset="0.5563" stop-color="#e5ff1a"/><stop offset="0.5634" stop-color="#f1ff0e"/><stop offset="0.5704" stop-color="#f4ff0b"/><stop offset="0.5775" stop-color="#efff10"/><stop offset="0.5915" stop-color="#cfff30"/><stop offset="0.6197" stop-color="#80ff7f"/><stop offset="0.6620" stop-color="#2fffd0"/><stop offset="0.6831" stop-color="#07fff8"/><stop offset="0.6901" stop-color="#00f8ff"/><stop offset="0.7465" stop-color="#0080ff"/><stop offset="0.7746" stop-color="#0055ff"/><stop offset="0.7887" stop-color="#0047ff"/><stop offset="1.0000" stop-color="#0047ff"/></linearGradient>
<linearGradient id="r44" x1="0" x2="1" y1="0" y2="0"><stop offset="0.0000" stop-color="#0047ff"/><stop offset="0.3873" stop-color="#0047ff"/><stop offset="0.4085" stop-color="#0064ff"/><stop offset="0.4366" stop-color="#00a8ff"/><stop offset="0.4648" stop-color="#00f5ff"/><stop offset="0.4718" stop-color="#08fff7"/><stop offset="0.5141" stop-color="#71ff8e"/><stop offset="0.5423" stop-color="#c1ff3e"/><stop offset="0.5563" stop-color="#d8ff27"/><stop offset="0.5634" stop-color="#d9ff26"/><stop offset="0.5775" stop-color="#c7ff38"/><stop offset="0.6197" stop-color="#61ff9e"/><stop offset="0.6479" stop-color="#30ffcf"/><stop offset="0.6761" stop-color="#04fffb"/><stop offset="0.6901" stop-color="#00e8ff"/><stop offset="0.7394" stop-color="#007aff"/><stop offset="0.7676" stop-color="#004dff"/><stop offset="0.7817" stop-color="#0047ff"/><stop offset="1.0000" stop-color="#0047ff"/></linearGradient>
<linearGradient id="r45" x1="0" x2="1" y1="0" y2="0"><stop offset="0.0000" stop-color="#0047ff"/><stop offset="0.3662" stop-color="#0048ff"/><stop offset="0.3944" stop-color="#0060ff"/><stop offset="0.4155" stop-color="#0084ff"/><stop offset="0.4648" stop-color="#00faff"/><stop offset="0.4789" stop-color="#1cffe3"/><stop offset="0.5352" stop-color="#9eff61"/><stop offset="0.5493" stop-color="#b0ff4f"/><stop offset="0.5634" stop-color="#afff50"/><stop offset="0.5775" stop-color="#9dff62"/><stop offset="0.6268" stop-color="#3cffc3"/><stop offset="0.6690" stop-color="#00ffff"/><stop offset="0.6972" stop-color="#00cbff"/><stop offset="0.7394" stop-color="#006cff"/><stop offset="0.7606" stop-color="#004aff"/><stop offset="1.0000" stop-color="#0047ff"/></linearGradient>
<linearGradient id="r46" x1="0" x2="1" y1="0" y2="0"><stop offset="0.0000" stop-color="#0047ff"/><stop offset="0.3380" stop-color="#0048ff"/><stop offset="0.3803" stop-color="#0066ff"/><stop offset="0.4155" stop-color="#0098ff"/><stop offset="0.4648" stop-color="#00f7ff"/><stop offset="0.4718" stop-color="#06fff9"/><stop offset="0.5282" stop-color="#71ff8e"/><stop offset="0.5423" stop-color="#81ff7e"/><stop offset="0.5563" stop-color="#86ff79"/><stop offset="0.5775" stop-color="#77ff88"/><stop offset="0.6408" stop-color="#18ffe7"/><stop offset="0.6620" stop-color="#00fcff"/><stop offset="0.6901" stop-color="#00ceff"/><stop offset="0.7394" stop-color="#0062ff"/><stop offset="0.7535" stop-color="#004cff"/><stop offset="0.7676" stop-color="#0047ff"/><stop offset="1.0000" stop-color="#0047ff"/></linearGradient>
<linearGradient id="r47" x1="0" x2="1" y1="0" y2="0"><stop offset="0.0000" stop-color="#0047ff"/><stop offset="0.3239" stop-color="#0047ff"/><stop offset="0.3662" stop-color="#006bff"/><stop offset="0.4507" stop-color="#00daff"/><stop offset="0.4789" stop-color="#04fffb"/><stop offset="0.5282" stop-color="#4bffb4"/><stop offset="0.5493" stop-color="#5bffa4"/><stop offset="0.5704" stop-color="#5affa5"/><stop offset="0.5986" stop-color="#42ffbd"/><stop offset="0.6479" stop-color="#05fffa"/><stop offset="0.6620" stop-color="#00f3ff"/><stop offset="0.6901" stop-color="#00c5ff"/><stop offset="0.7394" stop-color="#005dff"/><stop offset="0.7535" stop-color="#0049ff"/><stop offset="1.0000" stop-color="#0047ff"/></linearGradient>
<linearGradient id="r48" x1="0" x2="1" y1="0" y2="0"><stop offset="0.0000" stop-color="#0047ff"/><stop offset="0.3169" stop-color="#0048ff"/><stop offset="0.3592" stop-color="#0074ff"/><stop offset="0.4155" stop-color="#00b6ff"/><stop offset="0.4930" stop-color="#03fffc"/><stop offset="0.5352" stop-color="#2effd1"/><stop offset="0.5634" stop-color="#3cffc3"/><stop offset="0.5915" stop-color="#35ffca"/><stop offset="0.6408" stop-color="#08fff7"/><stop offset="0.6479" stop-color="#00ffff"/><stop offset="0.6831" stop-color="#00ccff"/><stop offset="0.7394" stop-color="#005cff"/><stop offset="0.7535" stop-color="#004aff"/><stop offset="1.0000" stop-color="#0047ff"/></linearGradient>
<linearGradient id="r49" x1="0" x2="1" y1="0" y2="0"><stop offset="0.0000" stop-color="#0047ff"/><stop offset="0.3099" stop-color="#0049ff"/><stop offset="0.4014" stop-color="#00b0ff"/><stop offset="0.4789" stop-color="#00e3ff"/><stop offset="0.5070" stop-color="#00fdff"/><stop offset="0.5563" stop-color="#22ffdd"/><stop offset="0.5845" stop-color="#27ffd8"/><stop offset="0.6268" stop-color="#13ffec"/><stop offset="0.6479" stop-color="#00fdff"/><stop offset="0.6761" stop-color="#00d5ff"/><stop offset="0.7324" stop-color="#006aff"/><stop offset="0.7606" stop-color="#0048ff"/><stop offset="1.0000" stop-color="#0047ff"/></linearGradient>
<linearGradient id="r50" x1="0" x2="1" y1="0" y2="0"><stop offset="0.0000" stop-color="#0047ff"/><stop offset="0.3028" stop-color="#004aff"/><stop offset="0.3732" stop-color="#009aff"/><stop offset="0.4155" stop-color="#00b6ff"/><stop offset="0.4718" stop-color="#00d5ff"/><stop offset="0.5211" stop-color="#00ffff"/><stop offset="0.5704" stop-color="#1bffe4"/><stop offset="0.6056" stop-color="#1cffe3"/><stop offset="0.6338" stop-color="#0cfff3"/><stop offset="0.6479" stop-color="#00feff"/><stop offset="0.6761" stop-color="#00d6ff"/><stop offset="0.7324" stop-color="#0070ff"/><stop offset="0.7606" stop-color="#004fff"/><stop offset="0.7817" stop-color="#0047ff"/><stop offset="1.0000" stop-color="#0047ff"/></linearGradient>
<linearGradient id="r51" x1="0" x2="1" y1="0" y2="0"><stop offset="0.0000" stop-color="#0047ff"/><stop offset="0.2887" stop-color="#0047ff"/><stop offset="0.3239" stop-color="#006fff"/><stop offset="0.3521" stop-color="#008eff"/><stop offset="0.3944" stop-color="#00a2ff"/><stop offset="0.4437" stop-color="#00baff"/><stop offset="0.5211" stop-color="#01fffe"/><stop offset="0.5634" stop-color="#17ffe8"/><stop offset="0.6056" stop-color="#1cffe3"/><stop offset="0.6408" stop-color="#08fff7"/><stop offset="0.6479" stop-color="#01fffe"/><stop offset="0.6761" stop-color="#00daff"/><stop offset="0.7394" stop-color="#006fff"/><stop offset="0.7676" stop-color="#0053ff"/><stop offset="0.7958" stop-color="#0047ff"/><stop offset="1.0000" stop-color="#0047ff"/></linearGradient>
<linearGradient id="r52" x1="0" x2="1" y1="0" y2="0"><stop offset="0.0000" stop-color="#0047ff"/><stop offset="0.2817" stop-color="#0049ff"/><stop offset="0.3380" stop-color="#008cff"/><stop offset="0.3662" stop-color="#0098ff"/><stop offset="0.4085" stop-color="#0097ff"/><stop offset="0.4437" stop-color="#00b0ff"/><stop offset="0.5070" stop-color="#00fcff"/><stop offset="0.5563" stop-color="#1cffe3"/><stop offset="0.6056" stop-color="#1fffe0"/><stop offset="0.6338" stop-color="#12ffed"/><stop offset="0.6549" stop-color="#00fdff"/><stop offset="0.6972" stop-color="#00bfff"/><stop offset="0.7394" stop-color="#007bff"/><stop offset="0.7746" stop-color="#0059ff"/><stop offset="0.8099" stop-color="#0047ff"/><stop offset="1.0000" stop-color="#0047ff"/></linearGradient>
<linearGradient id="r53" x1="0" x2="1" y1="0" y2="0"><stop offset="0.0000" stop-color="#0047ff"/><stop offset="0.2676" stop-color="#0047ff"/><stop offset="0.3099" stop-color="#0079ff"/><stop offset="0.3380" stop-color="#0097ff"/><stop offset="0.3592" stop-color="#0098ff"/><stop offset="0.4014" stop-color="#0085ff"/><stop offset="0.4225" stop-color="#008dff"/><stop offset="0.4507" stop-color="#00b0ff"/><stop offset="0.5000" stop-color="#00ffff"/><stop offset="0.5282" stop-color="#1dffe2"/><stop offset="0.5704" stop-color="#29ffd6"/><stop offset="0.6127" stop-color="#23ffdc"/><stop offset="0.6479" stop-color="#0cfff3"/><stop offset="0.6620" stop-color="#00fcff"/><stop offset="0.7042" stop-color="#00beff"/><stop offset="0.7465" stop-color="#0080ff"/><stop offset="0.7958" stop-color="#0056ff"/><stop offset="0.8169" stop-color="#0047ff"/><stop offset="1.0000" stop-color="#0047ff"/></linearGradient>
<linearGradient id="r54" x1="0" x2="1" y1="0" y2="0"><stop offset="0.0000" stop-color="#0047ff"/><stop offset="0.2535" stop-color="#0047ff"/><stop offset="0.2817" stop-color="#0063ff"/><stop offset="0.3239" stop-color="#0097ff"/><stop offset="0.3451" stop-color="#009eff"/><stop offset="0.3732" stop-color="#008aff"/><stop offset="0.3944" stop-color="#0078ff"/><stop offset="0.4155" stop-color="#0079ff"/><stop offset="0.4366" stop-color="#0091ff"/><stop offset="0.4930" stop-color="#00feff"/><stop offset="0.5211" stop-color="#26ffd9"/><stop offset="0.5493" stop-color="#34ffcb"/><stop offset="0.6056" stop-color="#2dffd2"/><stop offset="0.6479" stop-color="#13ffec"/><stop offset="0.6690" stop-color="#00fdff"/><stop offset="0.7465" stop-color="#008fff"/><stop offset="0.8239" stop-color="#0049ff"/><stop offset="1.0000" stop-color="#0047ff"/></linearGradient>
<linearGradient id="r55" x1="0" x2="1" y1="0" y2="0"><stop offset="0.0000" stop-color="#0047ff"/><stop offset="0.2465" stop-color="#0049ff"/><stop offset="0.3169" stop-color="#009cff"/><stop offset="0.3380" stop-color="#00a3ff"/><stop offset="0.3592" stop-color="#0094ff"/><stop offset="0.3944" stop-color="#006dff"/><stop offset="0.4085" stop-color="#006aff"/><stop offset="0.4296" stop-color="#007dff"/><stop offset="0.4577" stop-color="#00b5ff"/><stop offset="0.4859" stop-color="#00f6ff"/><stop offset="0.4930" stop-color="#06fff9"/><stop offset="0.5141" stop-color="#2affd5"/><stop offset="0.5352" stop-color="#3cffc3"/><stop offset="0.5634" stop-color="#3fffc0"/><stop offset="0.6197" stop-color="#2effd1"/><stop offset="0.6620" stop-color="#0ffff0"/><stop offset="0.6761" stop-color="#00feff"/><stop offset="0.7465" stop-color="#00a0ff"/><stop offset="0.8380" stop-color="#0047ff"/><stop offset="1.0000" stop-color="#0047ff"/></linearGradient>
<linearGradient id="r56" x1="0" x2="1" y1="0" y2="0"><stop offset="0.0000" stop-color="#0047ff"/><stop offset="0.2324" stop-color="#0047ff"/><stop offset="0.2606" stop-color="#0067ff"/><stop offset="0.3028" stop-color="#009dff"/><stop offset="0.3239" stop-color="#00a7ff"/><stop offset="0.3451" stop-color="#00a0ff"/><stop offset="0.3873" stop-color="#006cff"/><stop offset="0.4085" stop-color="#0063ff"/><stop offset="0.4296" stop-color="#0078ff"/><stop offset="0.4577" stop-color="#00b2ff"/><stop offset="0.4859" stop-color="#00f9ff"/><stop offset="0.5000" stop-color="#1affe5"/><stop offset="0.5211" stop-color="#3bffc4"/><stop offset="0.5423" stop-color="#48ffb7"/><stop offset="0.5775" stop-color="#45ffba"/><stop offset="0.6338" stop-color="#2dffd2"/><stop offset="0.6761" stop-color="#0afff5"/><stop offset="0.6901" stop-color="#00f9ff"/><stop offset="0.7535" stop-color="#00a9ff"/><stop offset="0.8239" stop-color="#005fff"/><stop offset="0.8451" stop-color="#0049ff"/><stop offset="1.0000" stop-color="#0047ff"/></linearGradient>
<linearGradient id="r57" x1="0" x2="1" y1="0" y2="0"><stop offset="0.0000" stop-color="#0047ff"/><stop offset="0.2254" stop-color="#0047ff"/><stop offset="0.2887" stop-color="#009fff"/><stop offset="0.3099" stop-color="#00adff"/><stop offset="0.3310" stop-color="#00a9ff"/><stop offset="0.3592" stop-color="#008bff"/><stop offset="0.3873" stop-color="#0067ff"/><stop offset="0.4085" stop-color="#0060ff"/><stop offset="0.4296" stop-color="#0075ff"/><stop offset="0.4507" stop-color="#009fff"/><stop offset="0.4859" stop-color="#00fbff"/><stop offset="0.5141" stop-color="#37ffc8"/><stop offset="0.5352" stop-color="#4cffb3"/><stop offset="0.5634" stop-color="#50ffaf"/><stop offset="0.6268" stop-color="#38ffc7"/><stop offset="0.6690" stop-color="#1bffe4"/><stop offset="0.6972" stop-color="#00fcff"/><stop offset="0.7606" stop-color="#00b4ff"/><stop offset="0.8099" stop-color="#007fff"/><stop offset="0.8521" stop-color="#004cff"/><stop offset="0.8662" stop-color="#0047ff"/><stop offset="1.0000" stop-color="#0047ff"/></linearGradient>
<linearGradient id="r58" x1="0" x2="1" y1="0" y2="0"><stop offset="0.0000" stop-color="#0047ff"/><stop offset="0.2183" stop-color="#004aff"/><stop offset="0.2465" stop-color="#0071ff"/><stop offset="0.2817" stop-color="#00a8ff"/><stop offset="0.3028" stop-color="#00b6ff"/><stop offset="0.3239" stop-color="#00afff"/><stop offset="0.3521" stop-color="#008fff"/><stop offset="0.3803" stop-color="#006aff"/><stop offset="0.4014" stop-color="#005eff"/><stop offset="0.4225" stop-color="#006bff"/><stop offset="0.4437" stop-color="#008fff"/><stop offset="0.4859" stop-color="#00faff"/><stop offset="0.5000" stop-color="#1dffe2"/><stop offset="0.5211" stop-color="#42ffbd"/><stop offset="0.5423" stop-color="#52ffad"/><stop offset="0.5775" stop-color="#52ffad"/><stop offset="0.6408" stop-color="#37ffc8"/><stop offset="0.6831" stop-color="#17ffe8"/><stop offset="0.7042" stop-color="#00ffff"/><stop offset="0.7676" stop-color="#00beff"/><stop offset="0.8099" stop-color="#0090ff"/><stop offset="0.8592" stop-color="#0051ff"/><stop offset="0.8732" stop-color="#0047ff"/><stop offset="1.0000" stop-color="#0047ff"/></linearGradient>
<linearGradient id="r59" x1="0" x2="1" y1="0" y2="0"><stop offset="0.0000" stop-color="#0047ff"/><stop offset="0.2042" stop-color="#0047ff"/><stop offset="0.2254" stop-color="#005eff"/><stop offset="0.2746" stop-color="#00b0ff"/><stop offset="0.2958" stop-color="#00bfff"/><stop offset="0.3169" stop-color="#00b7ff"/><stop offset="0.3521" stop-color="#008aff"/><stop offset="0.3803" stop-color="#0067ff"/><stop offset="0.4014" stop-color="#005eff"/><stop offset="0.4225" stop-color="#006dff"/><stop offset="0.4437" stop-color="#0090ff"/><stop offset="0.4859" stop-color="#00f8ff"/><stop offset="0.4930" stop-color="#0afff5"/><stop offset="0.5141" stop-color="#35ffca"/><stop offset="0.5352" stop-color="#4effb1"/><stop offset="0.5634" stop-color="#58ffa7"/><stop offset="0.6056" stop-color="#4fffb0"/><stop offset="0.6690" stop-color="#2bffd4"/><stop offset="0.7113" stop-color="#03fffc"/><stop offset="0.7958" stop-color="#00b3ff"/><stop offset="0.8662" stop-color="#0057ff"/><stop offset="0.8873" stop-color="#0047ff"/><stop offset="1.0000" stop-color="#0047ff"/></linearGradient>
<linearGradient id="r60" x1="0" x2="1" y1="0" y2="0"><stop offset="0.0000" stop-color="#0047ff"/><stop offset="0.1972" stop-color="#004aff"/><stop offset="0.2254" stop-color="#006bff"/><stop offset="0.2746" stop-color="#00beff"/><stop offset="0.2958" stop-color="#00c9ff"/><stop offset="0.3169" stop-color="#00baff"/><stop offset="0.3732" stop-color="#0069ff"/><stop offset="0.3944" stop-color="#005dff"/><stop offset="0.4155" stop-color="#0066ff"/><stop offset="0.4366" stop-color="#0085ff"/><stop offset="0.4859" stop-color="#00f5ff"/><stop offset="0.4930" stop-color="#06fff9"/><stop offset="0.5141" stop-color="#30ffcf"/><stop offset="0.5352" stop-color="#4bffb4"/><stop offset="0.5634" stop-color="#5bffa4"/><stop offset="0.6056" stop-color="#55ffaa"/><stop offset="0.6761" stop-color="#2cffd3"/><stop offset="0.7254" stop-color="#00feff"/><stop offset="0.7958" stop-color="#00c4ff"/><stop offset="0.8662" stop-color="#0069ff"/><stop offset="0.9014" stop-color="#004dff"/><stop offset="0.9296" stop-color="#0047ff"/><stop offset="1.0000" stop-color="#0047ff"/></linearGradient>
<linearGradient id="r61" x1="0" x2="1" y1="0" y2="0"><stop offset="0.0000" stop-color="#0047ff"/><stop offset="0.1831" stop-color="#004aff"/><stop offset="0.2113" stop-color="#0066ff"/><stop offset="0.2676" stop-color="#00c1ff"/><stop offset="0.2887" stop-color="#00d0ff"/><stop offset="0.3099" stop-color="#00c4ff"/><stop offset="0.3662" stop-color="#006dff"/><stop offset="0.3873" stop-color="#005cff"/><stop offset="0.4085" stop-color="#0061ff"/><stop offset="0.4296" stop-color="#007cff"/><stop offset="0.4648" stop-color="#00c4ff"/><stop offset="0.4930" stop-color="#02fffd"/><stop offset="0.5282" stop-color="#3effc1"/><stop offset="0.5563" stop-color="#59ffa6"/><stop offset="0.5845" stop-color="#60ff9f"/><stop offset="0.6408" stop-color="#48ffb7"/><stop offset="0.7113" stop-color="#13ffec"/><stop offset="0.7324" stop-color="#01fffe"/><stop offset="0.7958" stop-color="#00d2ff"/><stop offset="0.8732" stop-color="#0076ff"/><stop offset="0.9085" stop-color="#005dff"/><stop offset="0.9577" stop-color="#0056ff"/><stop offset="1.0000" stop-color="#005aff"/></linearGradient>
<linearGradient id="r62" x1="0" x2="1" y1="0" y2="0"><stop offset="0.0000" stop-color="#0047ff"/><stop offset="0.1690" stop-color="#004aff"/><stop offset="0.2042" stop-color="#006dff"/><stop offset="0.2676" stop-color="#00cbff"/><stop offset="0.2817" stop-color="#00d5ff"/><stop offset="0.2958" stop-color="#00d3ff"/><stop offset="0.3169" stop-color="#00baff"/><stop offset="0.3592" stop-color="#0072ff"/><stop offset="0.3803" stop-color="#005cff"/><stop offset="0.4014" stop-color="#005cff"/><stop offset="0.4225" stop-color="#0073ff"/><stop offset="0.4930" stop-color="#00feff"/><stop offset="0.5352" stop-color="#42ffbd"/><stop offset="0.5634" stop-color="#5effa1"/><stop offset="0.5845" stop-color="#64ff9b"/><stop offset="0.6197" stop-color="#58ffa7"/><stop offset="0.7042" stop-color="#1effe1"/><stop offset="0.7465" stop-color="#00feff"/><stop offset="0.8028" stop-color="#00d8ff"/><stop offset="0.8803" stop-color="#0084ff"/><stop offset="0.9155" stop-color="#0070ff"/><stop offset="0.9648" stop-color="#006fff"/><stop offset="1.0000" stop-color="#0075ff"/></linearGradient>
<linearGradient id="r63" x1="0" x2="1" y1="0" y2="0"><stop offset="0.0000" stop-color="#0047ff"/><stop offset="0.1549" stop-color="#0047ff"/><stop offset="0.1972" stop-color="#0074ff"/><stop offset="0.2606" stop-color="#00ccff"/><stop offset="0.2817" stop-color="#00d9ff"/><stop offset="0.3028" stop-color="#00cdff"/><stop offset="0.3310" stop-color="#009fff"/><stop offset="0.3592" stop-color="#006fff"/><stop offset="0.3803" stop-color="#005aff"/><stop offset="0.3944" stop-color="#0058ff"/><stop offset="0.4155" stop-color="#006bff"/><stop offset="0.4789" stop-color="#00e7ff"/><stop offset="0.4930" stop-color="#00feff"/><stop offset="0.5493" stop-color="#53ffac"/><stop offset="0.5775" stop-color="#67ff98"/><stop offset="0.6056" stop-color="#63ff9c"/><stop offset="0.7183" stop-color="#17ffe8"/><stop offset="0.7606" stop-color="#00fdff"/><stop offset="0.8099" stop-color="#00dcff"/><stop offset="0.8873" stop-color="#0092ff"/><stop offset="0.9225" stop-color="#0084ff"/><stop offset="1.0000" stop-color="#0091ff"/></linearGradient>
<linearGradient id="r64" x1="0" x2="1" y1="0" y2="0"><stop offset="0.0000" stop-color="#0047ff"/><stop offset="0.1479" stop-color="#0048ff"/><stop offset="0.1901" stop-color="#0079ff"/><stop offset="0.2535" stop-color="#00ceff"/><stop offset="0.2746" stop-color="#00dbff"/><stop offset="0.2958" stop-color="#00d3ff"/><stop offset="0.3239" stop-color="#00a9ff"/><stop offset="0.3592" stop-color="#006dff"/><stop offset="0.3803" stop-color="#0059ff"/><stop offset="0.4014" stop-color="#005dff"/><stop offset="0.4225" stop-color="#007cff"/><stop offset="0.4718" stop-color="#00e1ff"/><stop offset="0.4930" stop-color="#03fffc"/><stop offset="0.5563" stop-color="#5dffa2"/><stop offset="0.5775" stop-color="#6bff94"/><stop offset="0.6056" stop-color="#66ff99"/><stop offset="0.7606" stop-color="#03fffc"/><stop offset="0.7887" stop-color="#00f3ff"/><stop offset="0.8451" stop-color="#00c5ff"/><stop offset="0.8944" stop-color="#009dff"/><stop offset="0.9296" stop-color="#0097ff"/><stop offset="1.0000" stop-color="#00acff"/></linearGradient>
<linearGradient id="r65" x1="0" x2="1" y1="0" y2="0"><stop offset="0.0000" stop-color="#0047ff"/><stop offset="0.1408" stop-color="#0047ff"/><stop offset="0.1831" stop-color="#007dff"/><stop offset="0.2324" stop-color="#00c1ff"/><stop offset="0.2606" stop-color="#00daff"/><stop offset="0.2817" stop-color="#00dbff"/><stop offset="0.3028" stop-color="#00c8ff"/><stop offset="0.3592" stop-color="#006cff"/><stop offset="0.3803" stop-color="#005aff"/><stop offset="0.4014" stop-color="#0061ff"/><stop offset="0.4225" stop-color="#0082ff"/><stop offset="0.4648" stop-color="#00dfff"/><stop offset="0.4859" stop-color="#03fffc"/><stop offset="0.5493" stop-color="#5bffa4"/><stop offset="0.5704" stop-color="#6cff93"/><stop offset="0.5915" stop-color="#6eff91"/><stop offset="0.6901" stop-color="#33ffcc"/><stop offset="0.7746" stop-color="#00ffff"/><stop offset="0.8380" stop-color="#00d1ff"/><stop offset="0.8873" stop-color="#00a9ff"/><stop offset="0.9155" stop-color="#00a2ff"/><stop offset="0.9577" stop-color="#00b2ff"/><stop offset="1.0000" stop-color="#00c3ff"/></linearGradient>
<linearGradient id="r66" x1="0" x2="1" y1="0" y2="0"><stop offset="0.0000" stop-color="#0047ff"/><stop offset="0.1338" stop-color="#0047ff"/><stop offset="0.1620" stop-color="#0068ff"/><stop offset="0.2183" stop-color="#00bdff"/><stop offset="0.2465" stop-color="#00d8ff"/><stop offset="0.2676" stop-color="#00deff"/><stop offset="0.2887" stop-color="#00d4ff"/><stop offset="0.3169" stop-color="#00adff"/><stop offset="0.3521" stop-color="#0074ff"/><stop offset="0.3732" stop-color="#0060ff"/><stop offset="0.3944" stop-color="#0061ff"/><stop offset="0.4155" stop-color="#007cff"/><stop offset="0.4718" stop-color="#00f9ff"/><stop offset="0.4859" stop-color="#13ffec"/><stop offset="0.5352" stop-color="#56ffa9"/><stop offset="0.5634" stop-color="#6eff91"/><stop offset="0.5915" stop-color="#70ff8f"/><stop offset="0.7535" stop-color="#0efff1"/><stop offset="0.7817" stop-color="#00fbff"/><stop offset="0.8521" stop-color="#00c3ff"/><stop offset="0.8944" stop-color="#00a6ff"/><stop offset="0.9225" stop-color="#00a7ff"/><stop offset="0.9859" stop-color="#00cfff"/><stop offset="1.0000" stop-color="#00d3ff"/></linearGradient>
<linearGradient id="r67" x1="0" x2="1" y1="0" y2="0"><stop offset="0.0000" stop-color="#0047ff"/><stop offset="0.1268" stop-color="#0047ff"/><stop offset="0.1479" stop-color="#005cff"/><stop offset="0.2113" stop-color="#00c0ff"/><stop offset="0.2394" stop-color="#00dbff"/><stop offset="0.2676" stop-color="#00dfff"/><stop offset="0.2958" stop-color="#00c7ff"/><stop offset="0.3521" stop-color="#0074ff"/><stop offset="0.3732" stop-color="#0065ff"/><stop offset="0.3873" stop-color="#0065ff"/><stop offset="0.4085" stop-color="#007aff"/><stop offset="0.4366" stop-color="#00b5ff"/><stop offset="0.4648" stop-color="#00faff"/><stop offset="0.4789" stop-color="#19ffe6"/><stop offset="0.5070" stop-color="#49ffb6"/><stop offset="0.5352" stop-color="#68ff97"/><stop offset="0.5634" stop-color="#75ff8a"/><stop offset="0.5915" stop-color="#70ff8f"/><stop offset="0.7113" stop-color="#2bffd4"/><stop offset="0.7746" stop-color="#00fdff"/><stop offset="0.8873" stop-color="#00a0ff"/><stop offset="0.9155" stop-color="#00a0ff"/><stop offset="0.9789" stop-color="#00d6ff"/><stop offset="1.0000" stop-color="#00deff"/></linearGradient>
<linearGradient id="r68" x1="0" x2="1" y1="0" y2="0"><stop offset="0.0000" stop-color="#0047ff"/><stop offset="0.1268" stop-color="#004aff"/><stop offset="0.1549" stop-color="#006eff"/><stop offset="0.2042" stop-color="#00c2ff"/><stop offset="0.2324" stop-color="#00dfff"/><stop offset="0.2535" stop-color="#00e4ff"/><stop offset="0.2817" stop-color="#00d3ff"/><stop offset="0.3451" stop-color="#007bff"/><stop offset="0.3732" stop-color="#006bff"/><stop offset="0.3944" stop-color="#0075ff"/><stop offset="0.4155" stop-color="#0093ff"/><stop offset="0.4437" stop-color="#00d4ff"/><stop offset="0.4577" stop-color="#00f8ff"/><stop offset="0.4648" stop-color="#0bfff4"/><stop offset="0.4930" stop-color="#4bffb4"/><stop offset="0.5211" stop-color="#73ff8c"/><stop offset="0.5493" stop-color="#7eff81"/><stop offset="0.5915" stop-color="#70ff8f"/><stop offset="0.7042" stop-color="#30ffcf"/><stop offset="0.7676" stop-color="#00fdff"/><stop offset="0.8803" stop-color="#0096ff"/><stop offset="0.9014" stop-color="#0091ff"/><stop offset="0.9225" stop-color="#009cff"/><stop offset="0.9718" stop-color="#00d5ff"/><stop offset="1.0000" stop-color="#00e4ff"/></linearGradient>
<linearGradient id="r69" x1="0" x2="1" y1="0" y2="0"><stop offset="0.0000" stop-color="#0047ff"/><stop offset="0.1197" stop-color="#0049ff"/><stop offset="0.1479" stop-color="#006bff"/><stop offset="0.2042" stop-color="#00cdff"/><stop offset="0.2254" stop-color="#00e4ff"/><stop offset="0.2465" stop-color="#00e9ff"/><stop offset="0.2746" stop-color="#00d7ff"/><stop offset="0.3380" stop-color="#0081ff"/><stop offset="0.3592" stop-color="#0073ff"/><stop offset="0.3803" stop-color="#0076ff"/><stop offset="0.4014" stop-color="#008bff"/><stop offset="0.4225" stop-color="#00b0ff"/><stop offset="0.4507" stop-color="#00f4ff"/><stop offset="0.4577" stop-color="#08fff7"/><stop offset="0.4930" stop-color="#62ff9d"/><stop offset="0.5141" stop-color="#84ff7b"/><stop offset="0.5352" stop-color="#8eff71"/><stop offset="0.5704" stop-color="#7dff82"/><stop offset="0.6901" stop-color="#37ffc8"/><stop offset="0.7535" stop-color="#00ffff"/><stop offset="0.8732" stop-color="#008aff"/><stop offset="0.8944" stop-color="#0080ff"/><stop offset="0.9155" stop-color="#0089ff"/><stop offset="0.9437" stop-color="#00aeff"/><stop offset="0.9718" stop-color="#00d4ff"/><stop offset="1.0000" stop-color="#00e6ff"/></linearGradient>
<linearGradient id="r70" x1="0" x2="1" y1="0" y2="0"><stop offset="0.0000" stop-color="#0047ff"/><stop offset="0.1127" stop-color="#004aff"/><stop offset="0.1338" stop-color="#005dff"/><stop offset="0.1690" stop-color="#009bff"/><stop offset="0.1972" stop-color="#00cfff"/><stop offset="0.2183" stop-color="#00e9ff"/><stop offset="0.2394" stop-color="#00f1ff"/><stop offset="0.2606" stop-color="#00e5ff"/><stop offset="0.2958" stop-color="#00b7ff"/><stop offset="0.3310" stop-color="#0086ff"/><stop offset="0.3521" stop-color="#0079ff"/><stop offset="0.3732" stop-color="#007dff"/><stop offset="0.4014" stop-color="#009cff"/><stop offset="0.4296" stop-color="#00d0ff"/><stop offset="0.4437" stop-color="#00f2ff"/><stop offset="0.4507" stop-color="#05fffa"/><stop offset="0.4930" stop-color="#77ff88"/><stop offset="0.5070" stop-color="#91ff6e"/><stop offset="0.5211" stop-color="#9eff61"/><stop offset="0.5423" stop-color="#99ff66"/><stop offset="0.5986" stop-color="#6aff95"/><stop offset="0.6761" stop-color="#3bffc4"/><stop offset="0.7394" stop-color="#00feff"/><stop offset="0.8662" stop-color="#007dff"/><stop offset="0.8944" stop-color="#006fff"/><stop offset="0.9155" stop-color="#007aff"/><stop offset="0.9718" stop-color="#00d0ff"/><stop offset="1.0000" stop-color="#00e5ff"/></linearGradient>
<linearGradient id="r71" x1="0" x2="1" y1="0" y2="0"><stop offset="0.0000" stop-color="#0047ff"/><stop offset="0.1056" stop-color="#004bff"/><stop offset="0.1268" stop-color="#005bff"/><stop offset="0.1479" stop-color="#007cff"/><stop offset="0.1901" stop-color="#00d0ff"/><stop offset="0.2183" stop-color="#00f4ff"/><stop offset="0.2394" stop-color="#00f8ff"/><stop offset="0.2606" stop-color="#00e7ff"/><stop offset="0.3239" stop-color="#008aff"/><stop offset="0.3451" stop-color="#007cff"/><stop offset="0.3662" stop-color="#0082ff"/><stop offset="0.3944" stop-color="#00a4ff"/><stop offset="0.4296" stop-color="#00e3ff"/><stop offset="0.4437" stop-color="#03fffc"/><stop offset="0.4930" stop-color="#87ff78"/><stop offset="0.5070" stop-color="#a1ff5e"/><stop offset="0.5211" stop-color="#acff53"/><stop offset="0.5352" stop-color="#a8ff57"/><stop offset="0.5915" stop-color="#6cff93"/><stop offset="0.6549" stop-color="#43ffbc"/><stop offset="0.7183" stop-color="#02fffd"/><stop offset="0.8169" stop-color="#0096ff"/><stop offset="0.8803" stop-color="#0062ff"/><stop offset="0.9014" stop-color="#0060ff"/><stop offset="0.9225" stop-color="#0074ff"/><stop offset="0.9718" stop-color="#00c9ff"/><stop offset="0.9930" stop-color="#00dfff"/><stop offset="1.0000" stop-color="#00e3ff"/></linearGradient>
<linearGradient id="r72" x1="0" x2="1" y1="0" y2="0"><stop offset="0.0000" stop-color="#0047ff"/><stop offset="0.0986" stop-color="#004cff"/><stop offset="0.1197" stop-color="#0059ff"/><stop offset="0.1408" stop-color="#0078ff"/><stop offset="0.1901" stop-color="#00ddff"/><stop offset="0.2113" stop-color="#00faff"/><stop offset="0.2254" stop-color="#03fffc"/><stop offset="0.2394" stop-color="#00ffff"/><stop offset="0.2606" stop-color="#00e9ff"/><stop offset="0.3099" stop-color="#0097ff"/><stop offset="0.3310" stop-color="#0081ff"/><stop offset="0.3521" stop-color="#0080ff"/><stop offset="0.3732" stop-color="#0095ff"/><stop offset="0.4296" stop-color="#00f7ff"/><stop offset="0.4366" stop-color="#06fff9"/><stop offset="0.4648" stop-color="#4affb5"/><stop offset="0.4930" stop-color="#93ff6c"/><stop offset="0.5070" stop-color="#abff54"/><stop offset="0.5211" stop-color="#b4ff4b"/><stop offset="0.5423" stop-color="#a6ff59"/><stop offset="0.5775" stop-color="#76ff89"/><stop offset="0.6479" stop-color="#41ffbe"/><stop offset="0.6972" stop-color="#06fff9"/><stop offset="0.7113" stop-color="#00f2ff"/><stop offset="0.7817" stop-color="#009cff"/><stop offset="0.8521" stop-color="#0065ff"/><stop offset="0.8873" stop-color="#0050ff"/><stop offset="0.9085" stop-color="#0056ff"/><stop offset="0.9296" stop-color="#0073ff"/><stop offset="0.9718" stop-color="#00c2ff"/><stop offset="0.9930" stop-color="#00dcff"/><stop offset="1.0000" stop-color="#00e1ff"/></linearGradient>
<linearGradient id="r73" x1="0" x2="1" y1="0" y2="0"><stop offset="0.0000" stop-color="#0047ff"/><stop offset="0.0845" stop-color="#004aff"/><stop offset="0.1127" stop-color="#0058ff"/><stop offset="0.1338" stop-color="#0075ff"/><stop offset="0.1901" stop-color="#00eaff"/><stop offset="0.2042" stop-color="#00ffff"/><stop offset="0.2254" stop-color="#0cfff3"/><stop offset="0.2465" stop-color="#00feff"/><stop offset="0.2746" stop-color="#00cfff"/><stop offset="0.3028" stop-color="#009cff"/><stop offset="0.3239" stop-color="#0083ff"/><stop offset="0.3380" stop-color="#007fff"/><stop offset="0.3521" stop-color="#0085ff"/><stop offset="0.3803" stop-color="#00afff"/><stop offset="0.4225" stop-color="#00feff"/><stop offset="0.4577" stop-color="#46ffb9"/><stop offset="0.4930" stop-color="#9bff64"/><stop offset="0.5070" stop-color="#b1ff4e"/><stop offset="0.5211" stop-color="#b7ff48"/><stop offset="0.5423" stop-color="#a5ff5a"/><stop offset="0.5775" stop-color="#73ff8c"/><stop offset="0.6408" stop-color="#3effc1"/><stop offset="0.6831" stop-color="#03fffc"/><stop offset="0.7606" stop-color="#0095ff"/><stop offset="0.7958" stop-color="#0073ff"/><stop offset="0.8803" stop-color="#0047ff"/><stop offset="0.9085" stop-color="#004aff"/><stop offset="0.9296" stop-color="#0068ff"/><stop offset="0.9789" stop-color="#00c7ff"/><stop offset="1.0000" stop-color="#00dfff"/></linearGradient>
<linearGradient id="r74" x1="0" x2="1" y1="0" y2="0"><stop offset="0.0000" stop-color="#0047ff"/><stop offset="0.0845" stop-color="#0049ff"/><stop offset="0.1127" stop-color="#005fff"/><stop offset="0.1338" stop-color="#0081ff"/><stop offset="0.1831" stop-color="#00ebff"/><stop offset="0.1972" stop-color="#03fffc"/><stop offset="0.2183" stop-color="#14ffeb"/><stop offset="0.2324" stop-color="#11ffee"/><stop offset="0.2465" stop-color="#01fffe"/><stop offset="0.2676" stop-color="#00d9ff"/><stop offset="0.2958" stop-color="#00a0ff"/><stop offset="0.3169" stop-color="#0085ff"/><stop offset="0.3310" stop-color="#007eff"/><stop offset="0.3521" stop-color="#008bff"/><stop offset="0.3803" stop-color="#00bfff"/><stop offset="0.4085" stop-color="#00faff"/><stop offset="0.4225" stop-color="#14ffeb"/><stop offset="0.4577" stop-color="#54ffab"/><stop offset="0.4930" stop-color="#9fff60"/><stop offset="0.5070" stop-color="#b2ff4d"/><stop offset="0.5211" stop-color="#b6ff49"/><stop offset="0.5423" stop-color="#a2ff5d"/><stop offset="0.5775" stop-color="#6eff91"/><stop offset="0.6338" stop-color="#3cffc3"/><stop offset="0.6690" stop-color="#05fffa"/><stop offset="0.6831" stop-color="#00ecff"/><stop offset="0.7394" stop-color="#0091ff"/><stop offset="0.7817" stop-color="#0062ff"/><stop offset="0.8310" stop-color="#004dff"/><stop offset="0.8732" stop-color="#0047ff"/><stop offset="0.9155" stop-color="#0049ff"/><stop offset="0.9437" stop-color="#007bff"/><stop offset="0.9859" stop-color="#00cfff"/><stop offset="1.0000" stop-color="#00deff"/></linearGradient>
<linearGradient id="r75" x1="0" x2="1" y1="0" y2="0"><stop offset="0.0000" stop-color="#0047ff"/><stop offset="0.0845" stop-color="#0048ff"/><stop offset="0.1056" stop-color="#005eff"/><stop offset="0.1338" stop-color="#0090ff"/><stop offset="0.1831" stop-color="#00f8ff"/><stop offset="0.1901" stop-color="#04fffb"/><stop offset="0.2113" stop-color="#19ffe6"/><stop offset="0.2254" stop-color="#19ffe6"/><stop offset="0.2465" stop-color="#00ffff"/><stop offset="0.2958" stop-color="#0097ff"/><stop offset="0.3169" stop-color="#0080ff"/><stop offset="0.3310" stop-color="#007eff"/><stop offset="0.3451" stop-color="#0088ff"/><stop offset="0.3662" stop-color="#00adff"/><stop offset="0.4014" stop-color="#00feff"/><stop offset="0.4648" stop-color="#6eff91"/><stop offset="0.4930" stop-color="#a2ff5d"/><stop offset="0.5070" stop-color="#b1ff4e"/><stop offset="0.5282" stop-color="#aeff51"/><stop offset="0.5845" stop-color="#61ff9e"/><stop offset="0.6268" stop-color="#3affc5"/><stop offset="0.6549" stop-color="#0dfff2"/><stop offset="0.6620" stop-color="#00ffff"/><stop offset="0.7183" stop-color="#0095ff"/><stop offset="0.7606" stop-color="#005dff"/><stop offset="0.7887" stop-color="#0047ff"/><stop offset="0.9155" stop-color="#0047ff"/><stop offset="0.9366" stop-color="#0068ff"/><stop offset="0.9789" stop-color="#00c2ff"/><stop offset="1.0000" stop-color="#00e0ff"/></linearGradient>
<linearGradient id="r76" x1="0" x2="1" y1="0" y2="0"><stop offset="0.0000" stop-color="#0047ff"/><stop offset="0.0845" stop-color="#0047ff"/><stop offset="0.1127" stop-color="#0075ff"/><stop offset="0.1690" stop-color="#00edff"/><stop offset="0.1831" stop-color="#06fff9"/><stop offset="0.2042" stop-color="#1cffe3"/><stop offset="0.2183" stop-color="#1effe1"/><stop offset="0.2324" stop-color="#13ffec"/><stop offset="0.2465" stop-color="#00f9ff"/><stop offset="0.2887" stop-color="#0097ff"/><stop offset="0.3028" stop-color="#0083ff"/><stop offset="0.3239" stop-color="#007aff"/><stop offset="0.3451" stop-color="#008dff"/><stop offset="0.3662" stop-color="#00b8ff"/><stop offset="0.3944" stop-color="#00feff"/><stop offset="0.4225" stop-color="#36ffc9"/><stop offset="0.4930" stop-color="#a2ff5d"/><stop offset="0.5141" stop-color="#afff50"/><stop offset="0.5352" stop-color="#a0ff5f"/><stop offset="0.5845" stop-color="#5affa5"/><stop offset="0.6268" stop-color="#2dffd2"/><stop offset="0.6479" stop-color="#09fff6"/><stop offset="0.6549" stop-color="#00faff"/><stop offset="0.7113" stop-color="#008aff"/><stop offset="0.7465" stop-color="#0057ff"/><stop offset="0.7606" stop-color="#0049ff"/><stop offset="0.9155" stop-color="#0047ff"/><stop offset="0.9296" stop-color="#005aff"/><stop offset="0.9859" stop-color="#00d2ff"/><stop offset="1.0000" stop-color="#00e5ff"/></linearGradient>
<linearGradient id="r77" x1="0" x2="1" y1="0" y2="0"><stop offset="0.0000" stop-color="#0047ff"/><stop offset="0.0845" stop-color="#0047ff"/><stop offset="0.1127" stop-color="#0084ff"/><stop offset="0.1479" stop-color="#00d5ff"/><stop offset="0.1690" stop-color="#00fcff"/><stop offset="0.1972" stop-color="#1effe1"/><stop offset="0.2183" stop-color="#1fffe0"/><stop offset="0.2324" stop-color="#0ffff0"/><stop offset="0.2394" stop-color="#02fffd"/><stop offset="0.2606" stop-color="#00ccff"/><stop offset="0.2817" stop-color="#0097ff"/><stop offset="0.2958" stop-color="#007fff"/><stop offset="0.3099" stop-color="#0075ff"/><stop offset="0.3239" stop-color="#0078ff"/><stop offset="0.3451" stop-color="#0094ff"/><stop offset="0.3732" stop-color="#00d6ff"/><stop offset="0.3873" stop-color="#00faff"/><stop offset="0.4014" stop-color="#1dffe2"/><stop offset="0.4366" stop-color="#59ffa6"/><stop offset="0.4930" stop-color="#a1ff5e"/><stop offset="0.5070" stop-color="#a9ff56"/><stop offset="0.5282" stop-color="#a0ff5f"/><stop offset="0.5845" stop-color="#52ffad"/><stop offset="0.6268" stop-color="#1effe1"/><stop offset="0.6408" stop-color="#06fff9"/><stop offset="0.6479" stop-color="#00f7ff"/><stop offset="0.7042" stop-color="#0082ff"/><stop offset="0.7394" stop-color="#004fff"/><stop offset="0.7535" stop-color="#0047ff"/><stop offset="0.9155" stop-color="#0047ff"/><stop offset="0.9366" stop-color="#006dff"/><stop offset="0.9859" stop-color="#00daff"/><stop offset="1.0000" stop-color="#00edff"/></linearGradient>
<linearGradient id="r78" x1="0" x2="1" y1="0" y2="0"><stop offset="0.0000" stop-color="#0049ff"/><stop offset="0.0845" stop-color="#004aff"/><stop offset="0.1338" stop-color="#00cdff"/><stop offset="0.1549" stop-color="#00f7ff"/><stop offset="0.1620" stop-color="#03fffc"/><stop offset="0.1901" stop-color="#21ffde"/><stop offset="0.2113" stop-color="#23ffdc"/><stop offset="0.2254" stop-color="#15ffea"/><stop offset="0.2394" stop-color="#00f9ff"/><stop offset="0.2817" stop-color="#0089ff"/><stop offset="0.2958" stop-color="#0074ff"/><stop offset="0.3099" stop-color="#006fff"/><stop offset="0.3239" stop-color="#0078ff"/><stop offset="0.3451" stop-color="#009cff"/><stop offset="0.3803" stop-color="#00f4ff"/><stop offset="0.3873" stop-color="#06fff9"/><stop offset="0.4155" stop-color="#43ffbc"/><stop offset="0.4577" stop-color="#7dff82"/><stop offset="0.4930" stop-color="#9fff60"/><stop offset="0.5141" stop-color="#a1ff5e"/><stop offset="0.5423" stop-color="#85ff7a"/><stop offset="0.5915" stop-color="#3fffc0"/><stop offset="0.6268" stop-color="#0efff1"/><stop offset="0.6338" stop-color="#01fffe"/><stop offset="0.6761" stop-color="#00a8ff"/><stop offset="0.7113" stop-color="#0067ff"/><stop offset="0.7324" stop-color="#004bff"/><stop offset="0.7606" stop-color="#0047ff"/><stop offset="0.9085" stop-color="#0047ff"/><stop offset="0.9225" stop-color="#0058ff"/><stop offset="0.9507" stop-color="#0095ff"/><stop offset="0.9859" stop-color="#00e4ff"/><stop offset="1.0000" stop-color="#00f8ff"/></linearGradient>
<linearGradient id="r79" x1="0" x2="1" y1="0" y2="0"><stop offset="0.0000" stop-color="#0051ff"/><stop offset="0.0141" stop-color="#0047ff"/><stop offset="0.0775" stop-color="#0047ff"/><stop offset="0.0845" stop-color="#0052ff"/><stop offset="0.1268" stop-color="#00d3ff"/><stop offset="0.1479" stop-color="#01fffe"/><stop offset="0.1761" stop-color="#21ffde"/><stop offset="0.1972" stop-color="#29ffd6"/><stop offset="0.2183" stop-color="#1cffe3"/><stop offset="0.2324" stop-color="#04fffb"/><stop offset="0.2465" stop-color="#00dfff"/><stop offset="0.2746" stop-color="#008eff"/><stop offset="0.2887" stop-color="#0074ff"/><stop offset="0.3028" stop-color="#006bff"/><stop offset="0.3169" stop-color="#0073ff"/><stop offset="0.3380" stop-color="#0096ff"/><stop offset="0.3803" stop-color="#00feff"/><stop offset="0.4155" stop-color="#4bffb4"/><stop offset="0.4507" stop-color="#7cff83"/><stop offset="0.4859" stop-color="#98ff67"/><stop offset="0.5070" stop-color="#99ff66"/><stop offset="0.5352" stop-color="#83ff7c"/><stop offset="0.6197" stop-color="#08fff7"/><stop offset="0.6268" stop-color="#00fbff"/><stop offset="0.6972" stop-color="#0070ff"/><stop offset="0.7254" stop-color="#004aff"/><stop offset="0.9014" stop-color="#0047ff"/><stop offset="0.9155" stop-color="#0055ff"/><stop offset="0.9437" stop-color="#008fff"/><stop offset="0.9859" stop-color="#00f1ff"/><stop offset="0.9930" stop-color="#00fdff"/><stop offset="1.0000" stop-color="#07fff8"/></linearGradient>
<linearGradient id="r80" x1="0" x2="1" y1="0" y2="0"><stop offset="0.0000" stop-color="#0057ff"/><stop offset="0.0211" stop-color="#0047ff"/><stop offset="0.0704" stop-color="#0047ff"/><stop offset="0.0775" stop-color="#004eff"/><stop offset="0.0986" stop-color="#0090ff"/><stop offset="0.1197" stop-color="#00d6ff"/><stop offset="0.1338" stop-color="#00faff"/><stop offset="0.1479" stop-color="#14ffeb"/><stop offset="0.1690" stop-color="#29ffd6"/><stop offset="0.1972" stop-color="#2dffd2"/><stop offset="0.2183" stop-color="#1affe5"/><stop offset="0.2324" stop-color="#00ffff"/><stop offset="0.2746" stop-color="#008bff"/><stop offset="0.2887" stop-color="#0073ff"/><stop offset="0.3028" stop-color="#006dff"/><stop offset="0.3239" stop-color="#0085ff"/><stop offset="0.3592" stop-color="#00d5ff"/><stop offset="0.3732" stop-color="#00f7ff"/><stop offset="0.3803" stop-color="#09fff6"/><stop offset="0.4155" stop-color="#52ffad"/><stop offset="0.4437" stop-color="#79ff86"/><stop offset="0.4789" stop-color="#92ff6d"/><stop offset="0.5070" stop-color="#8eff71"/><stop offset="0.5352" stop-color="#74ff8b"/><stop offset="0.6127" stop-color="#03fffc"/><stop offset="0.6338" stop-color="#00dcff"/><stop offset="0.6901" stop-color="#006eff"/><stop offset="0.7183" stop-color="#004aff"/><stop offset="0.8944" stop-color="#0047ff"/><stop offset="0.9085" stop-color="#0055ff"/><stop offset="0.9296" stop-color="#007bff"/><stop offset="0.9859" stop-color="#00ffff"/><stop offset="1.0000" stop-color="#16ffe9"/></linearGradient>
<linearGradient id="r81" x1="0" x2="1" y1="0" y2="0"><stop offset="0.0000" stop-color="#005cff"/><stop offset="0.0282" stop-color="#0047ff"/><stop offset="0.0634" stop-color="#0048ff"/><stop offset="0.0775" stop-color="#0065ff"/><stop offset="0.1197" stop-color="#00ecff"/><stop offset="0.1268" stop-color="#00feff"/><stop offset="0.1479" stop-color="#25ffda"/><stop offset="0.1690" stop-color="#34ffcb"/><stop offset="0.1901" stop-color="#34ffcb"/><stop offset="0.2113" stop-color="#25ffda"/><stop offset="0.2324" stop-color="#00feff"/><stop offset="0.2746" stop-color="#0090ff"/><stop offset="0.2887" stop-color="#007bff"/><stop offset="0.3028" stop-color="#0079ff"/><stop offset="0.3239" stop-color="#0094ff"/><stop offset="0.3662" stop-color="#00f3ff"/><stop offset="0.3732" stop-color="#04fffb"/><stop offset="0.4155" stop-color="#57ffa8"/><stop offset="0.4437" stop-color="#7cff83"/><stop offset="0.4718" stop-color="#8cff73"/><stop offset="0.5000" stop-color="#85ff7a"/><stop offset="0.5352" stop-color="#63ff9c"/><stop offset="0.6056" stop-color="#00fcff"/><stop offset="0.6831" stop-color="#006dff"/><stop offset="0.7113" stop-color="#004aff"/><stop offset="0.8873" stop-color="#0047ff"/><stop offset="0.9155" stop-color="#006bff"/><stop offset="0.9437" stop-color="#00a7ff"/><stop offset="0.9789" stop-color="#00ffff"/><stop offset="1.0000" stop-color="#27ffd8"/></linearGradient>
<linearGradient id="r82" x1="0" x2="1" y1="0" y2="0"><stop offset="0.0000" stop-color="#005eff"/><stop offset="0.0423" stop-color="#0054ff"/><stop offset="0.0563" stop-color="#005eff"/><stop offset="0.0704" stop-color="#0075ff"/><stop offset="0.0915" stop-color="#00aeff"/><stop offset="0.1127" stop-color="#00eeff"/><stop offset="0.1197" stop-color="#02fffd"/><stop offset="0.1408" stop-color="#2affd5"/><stop offset="0.1620" stop-color="#3cffc3"/><stop offset="0.1901" stop-color="#3affc5"/><stop offset="0.2113" stop-color="#28ffd7"/><stop offset="0.2324" stop-color="#03fffc"/><stop offset="0.2535" stop-color="#00cfff"/><stop offset="0.2746" stop-color="#00a0ff"/><stop offset="0.2887" stop-color="#008fff"/><stop offset="0.3028" stop-color="#008fff"/><stop offset="0.3239" stop-color="#00a9ff"/><stop offset="0.3662" stop-color="#01fffe"/><stop offset="0.4155" stop-color="#5affa5"/><stop offset="0.4437" stop-color="#7dff82"/><stop offset="0.4648" stop-color="#87ff78"/><stop offset="0.4930" stop-color="#7bff84"/><stop offset="0.5423" stop-color="#46ffb9"/><stop offset="0.5915" stop-color="#01fffe"/><stop offset="0.6338" stop-color="#00b9ff"/><stop offset="0.6761" stop-color="#006cff"/><stop offset="0.7042" stop-color="#0049ff"/><stop offset="0.8732" stop-color="#0047ff"/><stop offset="0.9014" stop-color="#0061ff"/><stop offset="0.9296" stop-color="#0092ff"/><stop offset="0.9718" stop-color="#00fbff"/><stop offset="0.9930" stop-color="#2effd1"/><stop offset="1.0000" stop-color="#39ffc6"/></linearGradient>
<linearGradient id="r83" x1="0" x2="1" y1="0" y2="0"><stop offset="0.0000" stop-color="#005eff"/><stop offset="0.0352" stop-color="#006bff"/><stop offset="0.0563" stop-color="#0083ff"/><stop offset="0.0845" stop-color="#00bfff"/><stop offset="0.1056" stop-color="#00f5ff"/><stop offset="0.1127" stop-color="#06fff9"/><stop offset="0.1338" stop-color="#2dffd2"/><stop offset="0.1549" stop-color="#41ffbe"/><stop offset="0.1761" stop-color="#45ffba"/><stop offset="0.2042" stop-color="#35ffca"/><stop offset="0.2324" stop-color="#0bfff4"/><stop offset="0.2394" stop-color="#00fcff"/><stop offset="0.2746" stop-color="#00b7ff"/><stop offset="0.2887" stop-color="#00aaff"/><stop offset="0.3028" stop-color="#00acff"/><stop offset="0.3239" stop-color="#00c3ff"/><stop offset="0.3592" stop-color="#02fffd"/><stop offset="0.4225" stop-color="#66ff99"/><stop offset="0.4437" stop-color="#7bff84"/><stop offset="0.4648" stop-color="#80ff7f"/><stop offset="0.4930" stop-color="#6bff94"/><stop offset="0.5775" stop-color="#03fffc"/><stop offset="0.6127" stop-color="#00ceff"/><stop offset="0.6761" stop-color="#0061ff"/><stop offset="0.6972" stop-color="#0049ff"/><stop offset="0.8662" stop-color="#0049ff"/><stop offset="0.8944" stop-color="#0063ff"/><stop offset="0.9225" stop-color="#0090ff"/><stop offset="0.9577" stop-color="#00e2ff"/><stop offset="0.9648" stop-color="#00f6ff"/><stop offset="0.9718" stop-color="#0afff5"/><stop offset="0.9930" stop-color="#40ffbf"/><stop offset="1.0000" stop-color="#4cffb3"/></linearGradient>
<linearGradient id="r84" x1="0" x2="1" y1="0" y2="0"><stop offset="0.0000" stop-color="#005dff"/><stop offset="0.0211" stop-color="#006fff"/><stop offset="0.0493" stop-color="#009dff"/><stop offset="0.0986" stop-color="#03fffc"/><stop offset="0.1268" stop-color="#30ffcf"/><stop offset="0.1479" stop-color="#45ffba"/><stop offset="0.1761" stop-color="#4cffb3"/><stop offset="0.2042" stop-color="#3cffc3"/><stop offset="0.2465" stop-color="#00feff"/><stop offset="0.2746" stop-color="#00d4ff"/><stop offset="0.2958" stop-color="#00caff"/><stop offset="0.3169" stop-color="#00d7ff"/><stop offset="0.3451" stop-color="#00fcff"/><stop offset="0.4296" stop-color="#6cff93"/><stop offset="0.4507" stop-color="#78ff87"/><stop offset="0.4718" stop-color="#70ff8f"/><stop offset="0.5070" stop-color="#43ffbc"/><stop offset="0.5563" stop-color="#07fff8"/><stop offset="0.5634" stop-color="#00feff"/><stop offset="0.6127" stop-color="#00beff"/><stop offset="0.6761" stop-color="#0059ff"/><stop offset="0.6972" stop-color="#0047ff"/><stop offset="0.8521" stop-color="#0049ff"/><stop offset="0.8873" stop-color="#0067ff"/><stop offset="0.9155" stop-color="#0090ff"/><stop offset="0.9437" stop-color="#00cbff"/><stop offset="0.9648" stop-color="#04fffb"/><stop offset="0.9930" stop-color="#52ffad"/><stop offset="1.0000" stop-color="#5fffa0"/></linearGradient>
<linearGradient id="r85" x1="0" x2="1" y1="0" y2="0"><stop offset="0.0000" stop-color="#005bff"/><stop offset="0.0141" stop-color="#006bff"/><stop offset="0.0423" stop-color="#00acff"/><stop offset="0.0704" stop-color="#00f1ff"/><stop offset="0.0775" stop-color="#00ffff"/><stop offset="0.1056" stop-color="#29ffd6"/><stop offset="0.1408" stop-color="#48ffb7"/><stop offset="0.1690" stop-color="#53ffac"/><stop offset="0.1972" stop-color="#49ffb6"/><stop offset="0.2394" stop-color="#1cffe3"/><stop offset="0.2606" stop-color="#01fffe"/><stop offset="0.2887" stop-color="#00ecff"/><stop offset="0.3099" stop-color="#00f0ff"/><stop offset="0.3310" stop-color="#02fffd"/><stop offset="0.4296" stop-color="#65ff9a"/><stop offset="0.4507" stop-color="#6dff92"/><stop offset="0.4718" stop-color="#5fffa0"/><stop offset="0.5352" stop-color="#05fffa"/><stop offset="0.5493" stop-color="#00f5ff"/><stop offset="0.6056" stop-color="#00b9ff"/><stop offset="0.6761" stop-color="#0054ff"/><stop offset="0.6901" stop-color="#0047ff"/><stop offset="0.8380" stop-color="#0047ff"/><stop offset="0.8732" stop-color="#0064ff"/><stop offset="0.9085" stop-color="#0093ff"/><stop offset="0.9437" stop-color="#00d9ff"/><stop offset="0.9577" stop-color="#00feff"/><stop offset="0.9930" stop-color="#65ff9a"/><stop offset="1.0000" stop-color="#73ff8c"/></linearGradient>
<linearGradient id="r86" x1="0" x2="1" y1="0" y2="0"><stop offset="0.0000" stop-color="#0059ff"/><stop offset="0.0141" stop-color="#006fff"/><stop offset="0.0352" stop-color="#00acff"/><stop offset="0.0563" stop-color="#00efff"/><stop offset="0.0634" stop-color="#03fffc"/><stop offset="0.0845" stop-color="#2bffd4"/><stop offset="0.1127" stop-color="#42ffbd"/><stop offset="0.1620" stop-color="#58ffa7"/><stop offset="0.1901" stop-color="#55ffaa"/><stop offset="0.2324" stop-color="#34ffcb"/><stop offset="0.2746" stop-color="#11ffee"/><stop offset="0.3028" stop-color="#0bfff4"/><stop offset="0.3451" stop-color="#20ffdf"/><stop offset="0.4296" stop-color="#5bffa4"/><stop offset="0.4507" stop-color="#5dffa2"/><stop offset="0.4718" stop-color="#4bffb4"/><stop offset="0.5141" stop-color="#06fff9"/><stop offset="0.5282" stop-color="#00f2ff"/><stop offset="0.6127" stop-color="#00a5ff"/><stop offset="0.6831" stop-color="#004cff"/><stop offset="0.6972" stop-color="#0047ff"/><stop offset="0.8310" stop-color="#004aff"/><stop offset="0.8732" stop-color="#0071ff"/><stop offset="0.9155" stop-color="#00afff"/><stop offset="0.9437" stop-color="#00eaff"/><stop offset="0.9507" stop-color="#00fcff"/><stop offset="0.9648" stop-color="#24ffdb"/><stop offset="0.9930" stop-color="#79ff86"/><stop offset="1.0000" stop-color="#87ff78"/></linearGradient>
<linearGradient id="r87" x1="0" x2="1" y1="0" y2="0"><stop offset="0.0000" stop-color="#0057ff"/><stop offset="0.0141" stop-color="#0071ff"/><stop offset="0.0282" stop-color="#009dff"/><stop offset="0.0493" stop-color="#00ebff"/><stop offset="0.0563" stop-color="#04fffb"/><stop offset="0.0704" stop-color="#2affd5"/><stop offset="0.0845" stop-color="#41ffbe"/><stop offset="0.1127" stop-color="#51ffae"/><stop offset="0.1761" stop-color="#60ff9f"/><stop offset="0.2183" stop-color="#4fffb0"/><stop offset="0.2746" stop-color="#2affd5"/><stop offset="0.3099" stop-color="#23ffdc"/><stop offset="0.3944" stop-color="#41ffbe"/><stop offset="0.4366" stop-color="#4effb1"/><stop offset="0.4577" stop-color="#43ffbc"/><stop offset="0.4859" stop-color="#1cffe3"/><stop offset="0.5000" stop-color="#03fffc"/><stop offset="0.5352" stop-color="#00d2ff"/><stop offset="0.6197" stop-color="#0097ff"/><stop offset="0.6831" stop-color="#004fff"/><stop offset="0.7042" stop-color="#0047ff"/><stop offset="0.8169" stop-color="#0047ff"/><stop offset="0.8662" stop-color="#0078ff"/><stop offset="0.9085" stop-color="#00b5ff"/><stop offset="0.9366" stop-color="#00edff"/><stop offset="0.9437" stop-color="#00feff"/><stop offset="0.9648" stop-color="#39ffc6"/><stop offset="0.9930" stop-color="#8dff72"/><stop offset="1.0000" stop-color="#9cff63"/></linearGradient>
<linearGradient id="r88" x1="0" x2="1" y1="0" y2="0"><stop offset="0.0000" stop-color="#0056ff"/><stop offset="0.0141" stop-color="#0071ff"/><stop offset="0.0352" stop-color="#00bcff"/><stop offset="0.0493" stop-color="#00f3ff"/><stop offset="0.0563" stop-color="#0dfff2"/><stop offset="0.0704" stop-color="#34ffcb"/><stop offset="0.0845" stop-color="#4cffb3"/><stop offset="0.1056" stop-color="#5bffa4"/><stop offset="0.1831" stop-color="#67ff98"/><stop offset="0.2254" stop-color="#5affa5"/><stop offset="0.2887" stop-color="#37ffc8"/><stop offset="0.3310" stop-color="#34ffcb"/><stop offset="0.4225" stop-color="#3fffc0"/><stop offset="0.4507" stop-color="#32ffcd"/><stop offset="0.4789" stop-color="#0dfff2"/><stop offset="0.4859" stop-color="#01fffe"/><stop offset="0.5211" stop-color="#00cbff"/><stop offset="0.5493" stop-color="#00b4ff"/><stop offset="0.6197" stop-color="#0094ff"/><stop offset="0.6972" stop-color="#004bff"/><stop offset="0.7254" stop-color="#0047ff"/><stop offset="0.8099" stop-color="#004aff"/><stop offset="0.8521" stop-color="#0077ff"/><stop offset="0.9014" stop-color="#00bdff"/><stop offset="0.9296" stop-color="#00f3ff"/><stop offset="0.9366" stop-color="#04fffb"/><stop offset="0.9648" stop-color="#50ffaf"/><stop offset="0.9930" stop-color="#a3ff5c"/><stop offset="1.0000" stop-color="#b1ff4e"/></linearGradient>
<linearGradient id="r89" x1="0" x2="1" y1="0" y2="0"><stop offset="0.0000" stop-color="#0056ff"/><stop offset="0.0141" stop-color="#0071ff"/><stop offset="0.0282" stop-color="#009fff"/><stop offset="0.0493" stop-color="#00f1ff"/><stop offset="0.0563" stop-color="#0bfff4"/><stop offset="0.0704" stop-color="#34ffcb"/><stop offset="0.0845" stop-color="#4fffb0"/><stop offset="0.1056" stop-color="#61ff9e"/><stop offset="0.1690" stop-color="#6eff91"/><stop offset="0.2183" stop-color="#6cff93"/><stop offset="0.2606" stop-color="#57ffa8"/><stop offset="0.3028" stop-color="#40ffbf"/><stop offset="0.4085" stop-color="#35ffca"/><stop offset="0.4437" stop-color="#21ffde"/><stop offset="0.4718" stop-color="#00fdff"/><stop offset="0.5141" stop-color="#00beff"/><stop offset="0.5423" stop-color="#00a7ff"/><stop offset="0.6268" stop-color="#008fff"/><stop offset="0.7042" stop-color="#004fff"/><stop offset="0.7324" stop-color="#0047ff"/><stop offset="0.7958" stop-color="#004aff"/><stop offset="0.8310" stop-color="#006eff"/><stop offset="0.8944" stop-color="#00c7ff"/><stop offset="0.9225" stop-color="#00fcff"/><stop offset="0.9437" stop-color="#30ffcf"/><stop offset="0.9930" stop-color="#baff45"/><stop offset="1.0000" stop-color="#c7ff38"/></linearGradient>
<linearGradient id="r90" x1="0" x2="1" y1="0" y2="0"><stop offset="0.0000" stop-color="#0057ff"/><stop offset="0.0141" stop-color="#006fff"/><stop offset="0.0352" stop-color="#00b3ff"/><stop offset="0.0563" stop-color="#01fffe"/><stop offset="0.0704" stop-color="#2bffd4"/><stop offset="0.0845" stop-color="#49ffb6"/><stop offset="0.1056" stop-color="#62ff9d"/><stop offset="0.1408" stop-color="#71ff8e"/><stop offset="0.2183" stop-color="#7bff84"/><stop offset="0.2465" stop-color="#70ff8f"/><stop offset="0.3028" stop-color="#48ffb7"/><stop offset="0.3944" stop-color="#32ffcd"/><stop offset="0.4296" stop-color="#1affe5"/><stop offset="0.4507" stop-color="#03fffc"/><stop offset="0.4789" stop-color="#00dbff"/><stop offset="0.5141" stop-color="#00aeff"/><stop offset="0.5493" stop-color="#0099ff"/><stop offset="0.6197" stop-color="#0095ff"/><stop offset="0.6549" stop-color="#0080ff"/><stop offset="0.7113" stop-color="#0055ff"/><stop offset="0.7535" stop-color="#0048ff"/><stop offset="0.7887" stop-color="#0052ff"/><stop offset="0.8169" stop-color="#006eff"/><stop offset="0.9014" stop-color="#00ecff"/><stop offset="0.9085" stop-color="#00f9ff"/><stop offset="0.9225" stop-color="#18ffe7"/><stop offset="0.9577" stop-color="#73ff8c"/><stop offset="0.9930" stop-color="#d4ff2b"/><stop offset="1.0000" stop-color="#e0ff1f"/></linearGradient>
<linearGradient id="r91" x1="0" x2="1" y1="0" y2="0"><stop offset="0.0000" stop-color="#0058ff"/><stop offset="0.0141" stop-color="#006dff"/><stop offset="0.0352" stop-color="#00a9ff"/><stop offset="0.0563" stop-color="#00f0ff"/><stop offset="0.0634" stop-color="#07fff8"/><stop offset="0.0845" stop-color="#3cffc3"/><stop offset="0.1056" stop-color="#5dffa2"/><stop offset="0.1268" stop-color="#6fff90"/><stop offset="0.2183" stop-color="#89ff76"/><stop offset="0.2465" stop-color="#80ff7f"/><stop offset="0.3028" stop-color="#4effb1"/><stop offset="0.3944" stop-color="#2cffd3"/><stop offset="0.4225" stop-color="#14ffeb"/><stop offset="0.4366" stop-color="#03fffc"/><stop offset="0.5070" stop-color="#00aaff"/><stop offset="0.5423" stop-color="#0096ff"/><stop offset="0.6268" stop-color="#0096ff"/><stop offset="0.6690" stop-color="#007dff"/><stop offset="0.7254" stop-color="#005bff"/><stop offset="0.7606" stop-color="#0056ff"/><stop offset="0.7887" stop-color="#0064ff"/><stop offset="0.8169" stop-color="#0084ff"/><stop offset="0.8944" stop-color="#00fdff"/><stop offset="0.9155" stop-color="#26ffd9"/><stop offset="0.9507" stop-color="#7fff80"/><stop offset="0.9859" stop-color="#e1ff1e"/><stop offset="1.0000" stop-color="#fcff03"/></linearGradient>
<linearGradient id="r92" x1="0" x2="1" y1="0" y2="0"><stop offset="0.0000" stop-color="#005aff"/><stop offset="0.0141" stop-color="#006bff"/><stop offset="0.0352" stop-color="#009dff"/><stop offset="0.0634" stop-color="#00f0ff"/><stop offset="0.0704" stop-color="#05fffa"/><stop offset="0.0915" stop-color="#38ffc7"/><stop offset="0.1127" stop-color="#5dffa2"/><stop offset="0.1338" stop-color="#72ff8d"/><stop offset="0.2254" stop-color="#97ff68"/><stop offset="0.2535" stop-color="#87ff78"/><stop offset="0.3028" stop-color="#53ffac"/><stop offset="0.3451" stop-color="#3cffc3"/><stop offset="0.3944" stop-color="#26ffd9"/><stop offset="0.4225" stop-color="#09fff6"/><stop offset="0.4296" stop-color="#00ffff"/><stop offset="0.4859" stop-color="#00b7ff"/><stop offset="0.5211" stop-color="#009eff"/><stop offset="0.5634" stop-color="#0097ff"/><stop offset="0.6197" stop-color="#009cff"/><stop offset="0.6620" stop-color="#008bff"/><stop offset="0.7183" stop-color="#006cff"/><stop offset="0.7606" stop-color="#006aff"/><stop offset="0.7887" stop-color="#007bff"/><stop offset="0.8169" stop-color="#00a0ff"/><stop offset="0.8732" stop-color="#00fbff"/><stop offset="0.8944" stop-color="#1effe1"/><stop offset="0.9296" stop-color="#69ff96"/><stop offset="0.9859" stop-color="#fffe00"/><stop offset="1.0000" stop-color="#ffe300"/></linearGradient>
<linearGradient id="r93" x1="0" x2="1" y1="0" y2="0"><stop offset="0.0000" stop-color="#005cff"/><stop offset="0.0211" stop-color="#0073ff"/><stop offset="0.0493" stop-color="#00b1ff"/><stop offset="0.0775" stop-color="#00fdff"/><stop offset="0.1056" stop-color="#43ffbc"/><stop offset="0.1268" stop-color="#66ff99"/><stop offset="0.1690" stop-color="#84ff7b"/><stop offset="0.2183" stop-color="#a1ff5e"/><stop offset="0.2394" stop-color="#9eff61"/><stop offset="0.2676" stop-color="#82ff7d"/><stop offset="0.3099" stop-color="#51ffae"/><stop offset="0.3662" stop-color="#31ffce"/><stop offset="0.4014" stop-color="#1bffe4"/><stop offset="0.4225" stop-color="#03fffc"/><stop offset="0.4789" stop-color="#00bbff"/><stop offset="0.5211" stop-color="#00a3ff"/><stop offset="0.6268" stop-color="#00a0ff"/><stop offset="0.7113" stop-color="#0080ff"/><stop offset="0.7535" stop-color="#0081ff"/><stop offset="0.7817" stop-color="#0092ff"/><stop offset="0.8099" stop-color="#00b5ff"/><stop offset="0.8521" stop-color="#00fcff"/><stop offset="0.9014" stop-color="#4fffb0"/><stop offset="0.9366" stop-color="#9eff61"/><stop offset="0.9718" stop-color="#fdff02"/><stop offset="0.9930" stop-color="#ffcd00"/><stop offset="1.0000" stop-color="#ffc200"/></linearGradient>
<linearGradient id="r94" x1="0" x2="1" y1="0" y2="0"><stop offset="0.0000" stop-color="#005dff"/><stop offset="0.0211" stop-color="#006dff"/><stop offset="0.0493" stop-color="#009bff"/><stop offset="0.0775" stop-color="#00e3ff"/><stop offset="0.0845" stop-color="#00f7ff"/><stop offset="0.0915" stop-color="#0cfff3"/><stop offset="0.1197" stop-color="#50ffaf"/><stop offset="0.1408" stop-color="#6eff91"/><stop offset="0.2183" stop-color="#aaff55"/><stop offset="0.2394" stop-color="#a8ff57"/><stop offset="0.2676" stop-color="#8cff73"/><stop offset="0.3169" stop-color="#4effb1"/><stop offset="0.3592" stop-color="#30ffcf"/><stop offset="0.4014" stop-color="#17ffe8"/><stop offset="0.4225" stop-color="#00feff"/><stop offset="0.4648" stop-color="#00caff"/><stop offset="0.5000" stop-color="#00b4ff"/><stop offset="0.5563" stop-color="#00b0ff"/><stop offset="0.6127" stop-color="#00adff"/><stop offset="0.7042" stop-color="#0095ff"/><stop offset="0.7465" stop-color="#009dff"/><stop offset="0.7817" stop-color="#00b5ff"/><stop offset="0.8169" stop-color="#00e4ff"/><stop offset="0.8310" stop-color="#00fdff"/><stop offset="0.9085" stop-color="#84ff7b"/><stop offset="0.9507" stop-color="#e6ff19"/><stop offset="0.9577" stop-color="#f9ff06"/><stop offset="0.9718" stop-color="#ffdf00"/><stop offset="0.9930" stop-color="#ffab00"/><stop offset="1.0000" stop-color="#ffa000"/></linearGradient>
<linearGradient id="r95" x1="0" x2="1" y1="0" y2="0"><stop offset="0.0000" stop-color="#005eff"/><stop offset="0.0282" stop-color="#006cff"/><stop offset="0.0493" stop-color="#0086ff"/><stop offset="0.0704" stop-color="#00b5ff"/><stop offset="0.0915" stop-color="#00f3ff"/><stop offset="0.0986" stop-color="#09fff6"/><stop offset="0.1197" stop-color="#42ffbd"/><stop offset="0.1408" stop-color="#67ff98"/><stop offset="0.2042" stop-color="#a6ff59"/><stop offset="0.2254" stop-color="#b1ff4e"/><stop offset="0.2465" stop-color="#aaff55"/><stop offset="0.2817" stop-color="#80ff7f"/><stop offset="0.3239" stop-color="#49ffb6"/><stop offset="0.3592" stop-color="#2effd1"/><stop offset="0.4014" stop-color="#14ffeb"/><stop offset="0.4225" stop-color="#00fdff"/><stop offset="0.4648" stop-color="#00cfff"/><stop offset="0.5000" stop-color="#00c1ff"/><stop offset="0.5845" stop-color="#00c4ff"/><stop offset="0.6761" stop-color="#00acff"/><stop offset="0.7183" stop-color="#00b3ff"/><stop offset="0.7676" stop-color="#00d0ff"/><stop offset="0.8099" stop-color="#03fffc"/><stop offset="0.9085" stop-color="#adff52"/><stop offset="0.9437" stop-color="#f9ff06"/><stop offset="0.9507" stop-color="#fff400"/><stop offset="0.9859" stop-color="#ff9900"/><stop offset="1.0000" stop-color="#ff7f00"/></linearGradient>
<linearGradient id="r96" x1="0" x2="1" y1="0" y2="0"><stop offset="0.0000" stop-color="#005dff"/><stop offset="0.0352" stop-color="#0065ff"/><stop offset="0.0563" stop-color="#007eff"/><stop offset="0.0775" stop-color="#00b1ff"/><stop offset="0.0986" stop-color="#00f4ff"/><stop offset="0.1056" stop-color="#0cfff3"/><stop offset="0.1268" stop-color="#45ffba"/><stop offset="0.1479" stop-color="#69ff96"/><stop offset="0.2113" stop-color="#acff53"/><stop offset="0.2324" stop-color="#b3ff4c"/><stop offset="0.2606" stop-color="#a1ff5e"/><stop offset="0.3310" stop-color="#44ffbb"/><stop offset="0.3662" stop-color="#29ffd6"/><stop offset="0.4155" stop-color="#06fff9"/><stop offset="0.4296" stop-color="#00f6ff"/><stop offset="0.4648" stop-color="#00d8ff"/><stop offset="0.5000" stop-color="#00d2ff"/><stop offset="0.5704" stop-color="#00e0ff"/><stop offset="0.6690" stop-color="#00c7ff"/><stop offset="0.7113" stop-color="#00d4ff"/><stop offset="0.7676" stop-color="#00fcff"/><stop offset="0.7958" stop-color="#1cffe3"/><stop offset="0.8451" stop-color="#69ff96"/><stop offset="0.9155" stop-color="#e3ff1c"/><stop offset="0.9296" stop-color="#fffe00"/><stop offset="0.9930" stop-color="#ff6d00"/><stop offset="1.0000" stop-color="#ff6300"/></linearGradient>
<linearGradient id="r97" x1="0" x2="1" y1="0" y2="0"><stop offset="0.0000" stop-color="#005aff"/><stop offset="0.0352" stop-color="#0059ff"/><stop offset="0.0493" stop-color="#0062ff"/><stop offset="0.0704" stop-color="#0089ff"/><stop offset="0.0915" stop-color="#00cbff"/><stop offset="0.1056" stop-color="#00fcff"/><stop offset="0.1268" stop-color="#3affc5"/><stop offset="0.1479" stop-color="#62ff9d"/><stop offset="0.2042" stop-color="#a2ff5d"/><stop offset="0.2254" stop-color="#b0ff4f"/><stop offset="0.2465" stop-color="#adff52"/><stop offset="0.2746" stop-color="#91ff6e"/><stop offset="0.3380" stop-color="#41ffbe"/><stop offset="0.4225" stop-color="#00ffff"/><stop offset="0.4577" stop-color="#00e5ff"/><stop offset="0.4859" stop-color="#00e2ff"/><stop offset="0.5704" stop-color="#00feff"/><stop offset="0.6127" stop-color="#00f7ff"/><stop offset="0.6620" stop-color="#00ecff"/><stop offset="0.6972" stop-color="#00f6ff"/><stop offset="0.7113" stop-color="#00ffff"/><stop offset="0.7817" stop-color="#3cffc3"/><stop offset="0.8239" stop-color="#74ff8b"/><stop offset="0.9085" stop-color="#feff01"/><stop offset="0.9577" stop-color="#ff9d00"/><stop offset="0.9930" stop-color="#ff5500"/><stop offset="1.0000" stop-color="#ff4c00"/></linearGradient>
<linearGradient id="r98" x1="0" x2="1" y1="0" y2="0"><stop offset="0.0000" stop-color="#0054ff"/><stop offset="0.0352" stop-color="#004eff"/><stop offset="0.0563" stop-color="#005dff"/><stop offset="0.0704" stop-color="#007aff"/><stop offset="0.0915" stop-color="#00beff"/><stop offset="0.1056" stop-color="#00f0ff"/><stop offset="0.1127" stop-color="#08fff7"/><stop offset="0.1268" stop-color="#30ffcf"/><stop offset="0.1479" stop-color="#59ffa6"/><stop offset="0.2042" stop-color="#9aff65"/><stop offset="0.2324" stop-color="#aaff55"/><stop offset="0.2535" stop-color="#a4ff5b"/><stop offset="0.2958" stop-color="#77ff88"/><stop offset="0.3521" stop-color="#39ffc6"/><stop offset="0.4296" stop-color="#00fdff"/><stop offset="0.4577" stop-color="#00f0ff"/><stop offset="0.4859" stop-color="#00f3ff"/><stop offset="0.5141" stop-color="#03fffc"/><stop offset="0.5704" stop-color="#22ffdd"/><stop offset="0.6197" stop-color="#21ffde"/><stop offset="0.6690" stop-color="#1effe1"/><stop offset="0.7113" stop-color="#34ffcb"/><stop offset="0.7958" stop-color="#80ff7f"/><stop offset="0.8592" stop-color="#d7ff28"/><stop offset="0.8873" stop-color="#fffc00"/><stop offset="0.9507" stop-color="#ff8a00"/><stop offset="0.9859" stop-color="#ff4d00"/><stop offset="1.0000" stop-color="#ff3d00"/></linearGradient>
<linearGradient id="r99" x1="0" x2="1" y1="0" y2="0"><stop offset="0.0000" stop-color="#004dff"/><stop offset="0.0423" stop-color="#0047ff"/><stop offset="0.0563" stop-color="#0053ff"/><stop offset="0.0704" stop-color="#0070ff"/><stop offset="0.0915" stop-color="#00b4ff"/><stop offset="0.1127" stop-color="#00ffff"/><stop offset="0.1338" stop-color="#38ffc7"/><stop offset="0.1549" stop-color="#59ffa6"/><stop offset="0.2183" stop-color="#9aff65"/><stop offset="0.2394" stop-color="#a0ff5f"/><stop offset="0.2676" stop-color="#92ff6d"/><stop offset="0.3944" stop-color="#1bffe4"/><stop offset="0.4366" stop-color="#00feff"/><stop offset="0.4718" stop-color="#00feff"/><stop offset="0.5070" stop-color="#16ffe9"/><stop offset="0.5634" stop-color="#43ffbc"/><stop offset="0.6056" stop-color="#53ffac"/><stop offset="0.6761" stop-color="#5affa5"/><stop offset="0.7183" stop-color="#74ff8b"/><stop offset="0.8028" stop-color="#bcff43"/><stop offset="0.8521" stop-color="#f9ff06"/><stop offset="0.8662" stop-color="#fff200"/><stop offset="0.9155" stop-color="#ffa700"/><stop offset="0.9648" stop-color="#ff5500"/><stop offset="0.9930" stop-color="#ff3900"/><stop offset="1.0000" stop-color="#ff3500"/></linearGradient>
<linearGradient id="r100" x1="0" x2="1" y1="0" y2="0"><stop offset="0.0000" stop-color="#0047ff"/><stop offset="0.0493" stop-color="#0047ff"/><stop offset="0.0563" stop-color="#004cff"/><stop offset="0.0704" stop-color="#0068ff"/><stop offset="0.0915" stop-color="#00adff"/><stop offset="0.1127" stop-color="#00f7ff"/><stop offset="0.1197" stop-color="#0efff1"/><stop offset="0.1408" stop-color="#3cffc3"/><stop offset="0.1761" stop-color="#64ff9b"/><stop offset="0.2183" stop-color="#8cff73"/><stop offset="0.2465" stop-color="#92ff6d"/><stop offset="0.3028" stop-color="#6eff91"/><stop offset="0.3592" stop-color="#41ffbe"/><stop offset="0.4155" stop-color="#0ffff0"/><stop offset="0.4437" stop-color="#06fff9"/><stop offset="0.4718" stop-color="#0efff1"/><stop offset="0.5141" stop-color="#35ffca"/><stop offset="0.5775" stop-color="#75ff8a"/><stop offset="0.6197" stop-color="#8cff73"/><stop offset="0.6901" stop-color="#9eff61"/><stop offset="0.8028" stop-color="#f2ff0d"/><stop offset="0.8169" stop-color="#fffe00"/><stop offset="0.8944" stop-color="#ffa500"/><stop offset="0.9577" stop-color="#ff4700"/><stop offset="0.9859" stop-color="#ff3500"/><stop offset="1.0000" stop-color="#ff3400"/></linearGradient>
<linearGradient id="r101" x1="0" x2="1" y1="0" y2="0"><stop offset="0.0000" stop-color="#0047ff"/><stop offset="0.0563" stop-color="#0047ff"/><stop offset="0.0704" stop-color="#0063ff"/><stop offset="0.0915" stop-color="#00a7ff"/><stop offset="0.1127" stop-color="#00f0ff"/><stop offset="0.1197" stop-color="#06fff9"/><stop offset="0.1338" stop-color="#26ffd9"/><stop offset="0.1549" stop-color="#44ffbb"/><stop offset="0.2183" stop-color="#7cff83"/><stop offset="0.2465" stop-color="#81ff7e"/><stop offset="0.3451" stop-color="#54ffab"/><stop offset="0.4085" stop-color="#19ffe6"/><stop offset="0.4366" stop-color="#10ffef"/><stop offset="0.4648" stop-color="#1affe5"/><stop offset="0.5000" stop-color="#3dffc2"/><stop offset="0.5845" stop-color="#a8ff57"/><stop offset="0.6268" stop-color="#caff35"/><stop offset="0.6972" stop-color="#e1ff1e"/><stop offset="0.7465" stop-color="#fffd00"/><stop offset="0.8310" stop-color="#ffbd00"/><stop offset="0.9014" stop-color="#ff7a00"/><stop offset="0.9507" stop-color="#ff3b00"/><stop offset="0.9718" stop-color="#ff3100"/><stop offset="1.0000" stop-color="#ff3700"/></linearGradient>
<linearGradient id="r102" x1="0" x2="1" y1="0" y2="0"><stop offset="0.0000" stop-color="#0047ff"/><stop offset="0.0563" stop-color="#0047ff"/><stop offset="0.0634" stop-color="#004eff"/><stop offset="0.0775" stop-color="#0072ff"/><stop offset="0.1197" stop-color="#00fcff"/><stop offset="0.1408" stop-color="#28ffd7"/><stop offset="0.1761" stop-color="#4cffb3"/><stop offset="0.2183" stop-color="#6aff95"/><stop offset="0.2465" stop-color="#6dff92"/><stop offset="0.2958" stop-color="#5cffa3"/><stop offset="0.3451" stop-color="#57ffa8"/><stop offset="0.4085" stop-color="#21ffde"/><stop offset="0.4366" stop-color="#1bffe4"/><stop offset="0.4648" stop-color="#2affd5"/><stop offset="0.5000" stop-color="#54ffab"/><stop offset="0.5915" stop-color="#dfff20"/><stop offset="0.6197" stop-color="#feff01"/><stop offset="0.6549" stop-color="#ffee00"/><stop offset="0.7042" stop-color="#ffde00"/><stop offset="0.9014" stop-color="#ff5c00"/><stop offset="0.9507" stop-color="#ff2f00"/><stop offset="0.9718" stop-color="#ff2e00"/><stop offset="1.0000" stop-color="#ff4000"/></linearGradient>
<linearGradient id="r103" x1="0" x2="1" y1="0" y2="0"><stop offset="0.0000" stop-color="#0047ff"/><stop offset="0.0634" stop-color="#004aff"/><stop offset="0.0775" stop-color="#006cff"/><stop offset="0.1197" stop-color="#00f1ff"/><stop offset="0.1268" stop-color="#03fffc"/><stop offset="0.1479" stop-color="#27ffd8"/><stop offset="0.1901" stop-color="#4bffb4"/><stop offset="0.2254" stop-color="#5affa5"/><stop offset="0.2676" stop-color="#4cffb3"/><stop offset="0.2958" stop-color="#48ffb7"/><stop offset="0.3451" stop-color="#56ffa9"/><stop offset="0.3732" stop-color="#45ffba"/><stop offset="0.4085" stop-color="#2affd5"/><stop offset="0.4366" stop-color="#28ffd7"/><stop offset="0.4648" stop-color="#3bffc4"/><stop offset="0.5000" stop-color="#6bff94"/><stop offset="0.5845" stop-color="#fffd00"/><stop offset="0.6197" stop-color="#ffcb00"/><stop offset="0.6479" stop-color="#ffb800"/><stop offset="0.7113" stop-color="#ffa600"/><stop offset="0.8310" stop-color="#ff5800"/><stop offset="0.9155" stop-color="#ff3b00"/><stop offset="0.9507" stop-color="#ff2b00"/><stop offset="0.9718" stop-color="#ff3200"/><stop offset="1.0000" stop-color="#ff4c00"/></linearGradient>
<linearGradient id="r104" x1="0" x2="1" y1="0" y2="0"><stop offset="0.0000" stop-color="#0047ff"/><stop offset="0.0634" stop-color="#0047ff"/><stop offset="0.0775" stop-color="#0066ff"/><stop offset="0.1197" stop-color="#00e3ff"/><stop offset="0.1268" stop-color="#00f5ff"/><stop offset="0.1338" stop-color="#04fffb"/><stop offset="0.1549" stop-color="#24ffdb"/><stop offset="0.1831" stop-color="#3bffc4"/><stop offset="0.2113" stop-color="#46ffb9"/><stop offset="0.2465" stop-color="#3cffc3"/><stop offset="0.2817" stop-color="#2cffd3"/><stop offset="0.3028" stop-color="#33ffcc"/><stop offset="0.3451" stop-color="#51ffae"/><stop offset="0.3732" stop-color="#4affb5"/><stop offset="0.4085" stop-color="#35ffca"/><stop offset="0.4366" stop-color="#36ffc9"/><stop offset="0.4648" stop-color="#4dffb2"/><stop offset="0.4930" stop-color="#76ff89"/><stop offset="0.5634" stop-color="#fffd00"/><stop offset="0.6056" stop-color="#ffaf00"/><stop offset="0.6338" stop-color="#ff8f00"/><stop offset="0.6690" stop-color="#ff8200"/><stop offset="0.7183" stop-color="#ff7300"/><stop offset="0.7817" stop-color="#ff4400"/><stop offset="0.8239" stop-color="#ff2a00"/><stop offset="0.8662" stop-color="#ff2600"/><stop offset="0.9507" stop-color="#ff2f00"/><stop offset="0.9789" stop-color="#ff4400"/><stop offset="1.0000" stop-color="#ff5a00"/></linearGradient>
<linearGradient id="r105" x1="0" x2="1" y1="0" y2="0"><stop offset="0.0000" stop-color="#0047ff"/><stop offset="0.0634" stop-color="#0047ff"/><stop offset="0.0704" stop-color="#004fff"/><stop offset="0.0915" stop-color="#0084ff"/><stop offset="0.1268" stop-color="#00e5ff"/><stop offset="0.1408" stop-color="#02fffd"/><stop offset="0.1690" stop-color="#26ffd9"/><stop offset="0.2042" stop-color="#35ffca"/><stop offset="0.2324" stop-color="#2cffd3"/><stop offset="0.2746" stop-color="#10ffef"/><stop offset="0.2958" stop-color="#14ffeb"/><stop offset="0.3380" stop-color="#44ffbb"/><stop offset="0.3592" stop-color="#4fffb0"/><stop offset="0.4155" stop-color="#41ffbe"/><stop offset="0.4437" stop-color="#4affb5"/><stop offset="0.4718" stop-color="#68ff97"/><stop offset="0.5070" stop-color="#a7ff58"/><stop offset="0.5423" stop-color="#f4ff0b"/><stop offset="0.5493" stop-color="#fffa00"/><stop offset="0.5986" stop-color="#ff9200"/><stop offset="0.6268" stop-color="#ff6a00"/><stop offset="0.6549" stop-color="#ff5900"/><stop offset="0.7113" stop-color="#ff4d00"/><stop offset="0.7535" stop-color="#ff3000"/><stop offset="0.8028" stop-color="#ff0600"/><stop offset="0.8310" stop-color="#fb0000"/><stop offset="0.8662" stop-color="#ff0400"/><stop offset="0.9577" stop-color="#ff3e00"/><stop offset="1.0000" stop-color="#ff6800"/></linearGradient>
<linearGradient id="r106" x1="0" x2="1" y1="0" y2="0"><stop offset="0.0000" stop-color="#0047ff"/><stop offset="0.0704" stop-color="#0049ff"/><stop offset="0.0915" stop-color="#0078ff"/><stop offset="0.1268" stop-color="#00d2ff"/><stop offset="0.1479" stop-color="#00fbff"/><stop offset="0.1761" stop-color="#1cffe3"/><stop offset="0.2042" stop-color="#22ffdd"/><stop offset="0.2324" stop-color="#13ffec"/><stop offset="0.2535" stop-color="#00ffff"/><stop offset="0.2746" stop-color="#00f1ff"/><stop offset="0.2958" stop-color="#00f9ff"/><stop offset="0.3028" stop-color="#02fffd"/><stop offset="0.3451" stop-color="#41ffbe"/><stop offset="0.3662" stop-color="#4effb1"/><stop offset="0.4225" stop-color="#4fffb0"/><stop offset="0.4507" stop-color="#60ff9f"/><stop offset="0.4789" stop-color="#86ff79"/><stop offset="0.5141" stop-color="#cdff32"/><stop offset="0.5352" stop-color="#ffff00"/><stop offset="0.5915" stop-color="#ff7c00"/><stop offset="0.6197" stop-color="#ff4c00"/><stop offset="0.6408" stop-color="#ff3800"/><stop offset="0.7183" stop-color="#ff2400"/><stop offset="0.7535" stop-color="#ff0900"/><stop offset="0.7676" stop-color="#fa0000"/><stop offset="0.8028" stop-color="#dc0000"/><stop offset="0.8310" stop-color="#d60000"/><stop offset="0.8592" stop-color="#e30000"/><stop offset="0.8873" stop-color="#fd0000"/><stop offset="0.9930" stop-color="#ff7100"/><stop offset="1.0000" stop-color="#ff7600"/></linearGradient>
<linearGradient id="r107" x1="0" x2="1" y1="0" y2="0"><stop offset="0.0000" stop-color="#0047ff"/><stop offset="0.0704" stop-color="#0047ff"/><stop offset="0.0845" stop-color="#005dff"/><stop offset="0.1408" stop-color="#00d9ff"/><stop offset="0.1620" stop-color="#00f9ff"/><stop offset="0.1761" stop-color="#07fff8"/><stop offset="0.1972" stop-color="#0dfff2"/><stop offset="0.2254" stop-color="#00ffff"/><stop offset="0.2676" stop-color="#00d9ff"/><stop offset="0.2817" stop-color="#00d7ff"/><stop offset="0.2958" stop-color="#00e1ff"/><stop offset="0.3099" stop-color="#00f7ff"/><stop offset="0.3169" stop-color="#05fffa"/><stop offset="0.3451" stop-color="#39ffc6"/><stop offset="0.3662" stop-color="#4dffb2"/><stop offset="0.4296" stop-color="#60ff9f"/><stop offset="0.4577" stop-color="#78ff87"/><stop offset="0.4859" stop-color="#a5ff5a"/><stop offset="0.5211" stop-color="#f4ff0b"/><stop offset="0.5282" stop-color="#fff900"/><stop offset="0.5845" stop-color="#ff6c00"/><stop offset="0.6127" stop-color="#ff3400"/><stop offset="0.6338" stop-color="#ff1a00"/><stop offset="0.6690" stop-color="#ff0b00"/><stop offset="0.7254" stop-color="#fb0000"/><stop offset="0.7958" stop-color="#bf0000"/><stop offset="0.8239" stop-color="#b80000"/><stop offset="0.8521" stop-color="#c60000"/><stop offset="0.8873" stop-color="#f10000"/><stop offset="0.8944" stop-color="#fc0000"/><stop offset="0.9648" stop-color="#ff6300"/><stop offset="0.9930" stop-color="#ff7e00"/><stop offset="1.0000" stop-color="#ff8100"/></linearGradient>
<linearGradient id="r108" x1="0" x2="1" y1="0" y2="0"><stop offset="0.0000" stop-color="#0047ff"/><stop offset="0.0775" stop-color="#0049ff"/><stop offset="0.1197" stop-color="#0097ff"/><stop offset="0.1549" stop-color="#00d5ff"/><stop offset="0.1761" stop-color="#00ebff"/><stop offset="0.1972" stop-color="#00f1ff"/><stop offset="0.2254" stop-color="#00e4ff"/><stop offset="0.2676" stop-color="#00c1ff"/><stop offset="0.2817" stop-color="#00c1ff"/><stop offset="0.3028" stop-color="#00d9ff"/><stop offset="0.3169" stop-color="#00f5ff"/><stop offset="0.3239" stop-color="#06fff9"/><stop offset="0.3451" stop-color="#32ffcd"/><stop offset="0.3662" stop-color="#4dffb2"/><stop offset="0.4366" stop-color="#71ff8e"/><stop offset="0.4648" stop-color="#92ff6d"/><stop offset="0.4930" stop-color="#c5ff3a"/><stop offset="0.5141" stop-color="#f6ff09"/><stop offset="0.5211" stop-color="#fff600"/><stop offset="0.5915" stop-color="#ff4100"/><stop offset="0.6197" stop-color="#ff0b00"/><stop offset="0.6268" stop-color="#ff0100"/><stop offset="0.6549" stop-color="#e90000"/><stop offset="0.7254" stop-color="#d40000"/><stop offset="0.7958" stop-color="#a40000"/><stop offset="0.8239" stop-color="#a30000"/><stop offset="0.8521" stop-color="#b80000"/><stop offset="0.8873" stop-color="#ec0000"/><stop offset="0.8944" stop-color="#f90000"/><stop offset="0.9085" stop-color="#ff1400"/><stop offset="0.9507" stop-color="#ff5d00"/><stop offset="0.9789" stop-color="#ff7d00"/><stop offset="1.0000" stop-color="#ff8a00"/></linearGradient>
<linearGradient id="r109" x1="0" x2="1" y1="0" y2="0"><stop offset="0.0000" stop-color="#0047ff"/><stop offset="0.0775" stop-color="#0047ff"/><stop offset="0.0915" stop-color="#0054ff"/><stop offset="0.1549" stop-color="#00b5ff"/><stop offset="0.1831" stop-color="#00ceff"/><stop offset="0.2113" stop-color="#00cfff"/><stop offset="0.2676" stop-color="#00adff"/><stop offset="0.2887" stop-color="#00b6ff"/><stop offset="0.3099" stop-color="#00daff"/><stop offset="0.3239" stop-color="#00fcff"/><stop offset="0.3521" stop-color="#39ffc6"/><stop offset="0.3732" stop-color="#52ffad"/><stop offset="0.4366" stop-color="#7dff82"/><stop offset="0.4648" stop-color="#a0ff5f"/><stop offset="0.5000" stop-color="#e5ff1a"/><stop offset="0.5070" stop-color="#f6ff09"/><stop offset="0.5141" stop-color="#fff700"/><stop offset="0.5986" stop-color="#ff1700"/><stop offset="0.6056" stop-color="#ff0700"/><stop offset="0.6127" stop-color="#f80000"/><stop offset="0.6338" stop-color="#d60000"/><stop offset="0.6620" stop-color="#bf0000"/><stop offset="0.7535" stop-color="#9d0000"/><stop offset="0.7958" stop-color="#8e0000"/><stop offset="0.8239" stop-color="#960000"/><stop offset="0.8521" stop-color="#b20000"/><stop offset="0.8873" stop-color="#ef0000"/><stop offset="0.8944" stop-color="#fd0000"/><stop offset="0.9437" stop-color="#ff5b00"/><stop offset="0.9718" stop-color="#ff7f00"/><stop offset="1.0000" stop-color="#ff8f00"/></linearGradient>
<linearGradient id="r110" x1="0" x2="1" y1="0" y2="0"><stop offset="0.0000" stop-color="#0047ff"/><stop offset="0.0915" stop-color="#004aff"/><stop offset="0.1620" stop-color="#009aff"/><stop offset="0.1901" stop-color="#00adff"/><stop offset="0.2254" stop-color="#00adff"/><stop offset="0.2676" stop-color="#009dff"/><stop offset="0.2817" stop-color="#00a3ff"/><stop offset="0.2958" stop-color="#00b5ff"/><stop offset="0.3169" stop-color="#00e4ff"/><stop offset="0.3239" stop-color="#00f6ff"/><stop offset="0.3310" stop-color="#09fff6"/><stop offset="0.3521" stop-color="#36ffc9"/><stop offset="0.3732" stop-color="#52ffad"/><stop offset="0.4366" stop-color="#87ff78"/><stop offset="0.4648" stop-color="#adff52"/><stop offset="0.4930" stop-color="#e5ff1a"/><stop offset="0.5070" stop-color="#fff900"/><stop offset="0.5634" stop-color="#ff5f00"/><stop offset="0.5986" stop-color="#fd0000"/><stop offset="0.6268" stop-color="#c00000"/><stop offset="0.6479" stop-color="#a20000"/><stop offset="0.6831" stop-color="#890000"/><stop offset="0.7183" stop-color="#800000"/><stop offset="0.8028" stop-color="#800000"/><stop offset="0.8310" stop-color="#960000"/><stop offset="0.8592" stop-color="#bf0000"/><stop offset="0.8873" stop-color="#f60000"/><stop offset="0.8944" stop-color="#ff0600"/><stop offset="0.9366" stop-color="#ff5800"/><stop offset="0.9648" stop-color="#ff7d00"/><stop offset="1.0000" stop-color="#ff9100"/></linearGradient>
<linearGradient id="r111" x1="0" x2="1" y1="0" y2="0"><stop offset="0.0000" stop-color="#0047ff"/><stop offset="0.0986" stop-color="#0047ff"/><stop offset="0.1901" stop-color="#008aff"/><stop offset="0.2254" stop-color="#0093ff"/><stop offset="0.2676" stop-color="#0090ff"/><stop offset="0.2887" stop-color="#00a2ff"/><stop offset="0.3028" stop-color="#00bcff"/><stop offset="0.3239" stop-color="#00f2ff"/><stop offset="0.3310" stop-color="#05fffa"/><stop offset="0.3521" stop-color="#34ffcb"/><stop offset="0.3732" stop-color="#52ffad"/><stop offset="0.4366" stop-color="#8fff70"/><stop offset="0.4718" stop-color="#c6ff39"/><stop offset="0.5000" stop-color="#fffc00"/><stop offset="0.5423" stop-color="#ff8c00"/><stop offset="0.5845" stop-color="#ff0f00"/><stop offset="0.5915" stop-color="#fa0000"/><stop offset="0.6197" stop-color="#b00000"/><stop offset="0.6408" stop-color="#870000"/><stop offset="0.6479" stop-color="#800000"/><stop offset="0.8099" stop-color="#800000"/><stop offset="0.8380" stop-color="#a20000"/><stop offset="0.8873" stop-color="#ff0200"/><stop offset="0.9296" stop-color="#ff5400"/><stop offset="0.9577" stop-color="#ff7a00"/><stop offset="0.9859" stop-color="#ff8d00"/><stop offset="1.0000" stop-color="#ff9100"/></linearGradient>
<linearGradient id="r112" x1="0" x2="1" y1="0" y2="0"><stop offset="0.0000" stop-color="#0047ff"/><stop offset="0.1268" stop-color="#0047ff"/><stop offset="0.2183" stop-color="#007aff"/><stop offset="0.2676" stop-color="#0084ff"/><stop offset="0.2887" stop-color="#009aff"/><stop offset="0.3099" stop-color="#00c8ff"/><stop offset="0.3310" stop-color="#02fffd"/><stop offset="0.3521" stop-color="#32ffcd"/><stop offset="0.3803" stop-color="#59ffa6"/><stop offset="0.4296" stop-color="#8cff73"/><stop offset="0.4648" stop-color="#c4ff3b"/><stop offset="0.4930" stop-color="#feff01"/><stop offset="0.5352" stop-color="#ff9300"/><stop offset="0.5845" stop-color="#fd0000"/><stop offset="0.6197" stop-color="#980000"/><stop offset="0.6268" stop-color="#870000"/><stop offset="0.6338" stop-color="#800000"/><stop offset="0.8099" stop-color="#800000"/><stop offset="0.8521" stop-color="#c50000"/><stop offset="0.8803" stop-color="#ff0100"/><stop offset="0.9225" stop-color="#ff5200"/><stop offset="0.9507" stop-color="#ff7700"/><stop offset="0.9789" stop-color="#ff8b00"/><stop offset="1.0000" stop-color="#ff9000"/></linearGradient>
<linearGradient id="r113" x1="0" x2="1" y1="0" y2="0"><stop offset="0.0000" stop-color="#0047ff"/><stop offset="0.1690" stop-color="#0047ff"/><stop offset="0.2324" stop-color="#006cff"/><stop offset="0.2676" stop-color="#007aff"/><stop offset="0.2887" stop-color="#0094ff"/><stop offset="0.3099" stop-color="#00c4ff"/><stop offset="0.3310" stop-color="#00feff"/><stop offset="0.3592" stop-color="#3cffc3"/><stop offset="0.4014" stop-color="#6eff91"/><stop offset="0.4437" stop-color="#a7ff58"/><stop offset="0.4859" stop-color="#f9ff06"/><stop offset="0.4930" stop-color="#fff500"/><stop offset="0.5352" stop-color="#ff8700"/><stop offset="0.5775" stop-color="#ff0700"/><stop offset="0.5845" stop-color="#f00000"/><stop offset="0.6197" stop-color="#880000"/><stop offset="0.6268" stop-color="#800000"/><stop offset="0.8028" stop-color="#800000"/><stop offset="0.8521" stop-color="#d40000"/><stop offset="0.8732" stop-color="#ff0000"/><stop offset="0.9155" stop-color="#ff5100"/><stop offset="0.9437" stop-color="#ff7400"/><stop offset="0.9718" stop-color="#ff8800"/><stop offset="1.0000" stop-color="#ff9000"/></linearGradient>
<linearGradient id="r114" x1="0" x2="1" y1="0" y2="0"><stop offset="0.0000" stop-color="#0047ff"/><stop offset="0.1972" stop-color="#0049ff"/><stop offset="0.2465" stop-color="#0065ff"/><stop offset="0.2746" stop-color="#0078ff"/><stop offset="0.2958" stop-color="#009bff"/><stop offset="0.3310" stop-color="#00faff"/><stop offset="0.3451" stop-color="#1effe1"/><stop offset="0.3732" stop-color="#4effb1"/><stop offset="0.4225" stop-color="#8bff74"/><stop offset="0.4648" stop-color="#d5ff2a"/><stop offset="0.4859" stop-color="#fffc00"/><stop offset="0.5282" stop-color="#ff9200"/><stop offset="0.5775" stop-color="#fe0000"/><stop offset="0.6197" stop-color="#830000"/><stop offset="0.7887" stop-color="#800000"/><stop offset="0.8028" stop-color="#900000"/><stop offset="0.8592" stop-color="#f20000"/><stop offset="0.8662" stop-color="#ff0000"/><stop offset="0.9085" stop-color="#ff4f00"/><stop offset="0.9366" stop-color="#ff7300"/><stop offset="0.9718" stop-color="#ff8a00"/><stop offset="1.0000" stop-color="#ff9000"/></linearGradient>
<linearGradient id="r115" x1="0" x2="1" y1="0" y2="0"><stop offset="0.0000" stop-color="#0047ff"/><stop offset="0.2113" stop-color="#004aff"/><stop offset="0.2676" stop-color="#006bff"/><stop offset="0.2887" stop-color="#0088ff"/><stop offset="0.3099" stop-color="#00baff"/><stop offset="0.3310" stop-color="#00f7ff"/><stop offset="0.3380" stop-color="#0afff5"/><stop offset="0.3592" stop-color="#37ffc8"/><stop offset="0.4296" stop-color="#98ff67"/><stop offset="0.4718" stop-color="#e9ff16"/><stop offset="0.4789" stop-color="#f8ff07"/><stop offset="0.4859" stop-color="#fff600"/><stop offset="0.5282" stop-color="#ff8d00"/><stop offset="0.5775" stop-color="#fd0000"/><stop offset="0.6127" stop-color="#990000"/><stop offset="0.6197" stop-color="#880000"/><stop offset="0.6268" stop-color="#800000"/><stop offset="0.7746" stop-color="#800000"/><stop offset="0.7887" stop-color="#8e0000"/><stop offset="0.8521" stop-color="#f20000"/><stop offset="0.8592" stop-color="#ff0000"/><stop offset="0.9085" stop-color="#ff5600"/><stop offset="0.9366" stop-color="#ff7700"/><stop offset="0.9718" stop-color="#ff8b00"/><stop offset="1.0000" stop-color="#ff9000"/></linearGradient>
</defs>
<g clip-path="url(#msk)"><g filter="url(#vb)">
<rect x="130.0" y="104.0" width="284.0" height="3.5" fill="url(#r0)"/>
<rect x="130.0" y="107.0" width="284.0" height="3.5" fill="url(#r1)"/>
<rect x="130.0" y="110.0" width="284.0" height="3.5" fill="url(#r2)"/>
<rect x="130.0" y="113.0" width="284.0" height="3.5" fill="url(#r3)"/>
<rect x="130.0" y="116.0" width="284.0" height="3.5" fill="url(#r4)"/>
<rect x="130.0" y="119.0" width="284.0" height="3.5" fill="url(#r5)"/>
<rect x="130.0" y="122.0" width="284.0" height="3.5" fill="url(#r6)"/>
<rect x="130.0" y="125.0" width="284.0" height="3.5" fill="url(#r7)"/>
<rect x="130.0" y="128.0" width="284.0" height="3.5" fill="url(#r8)"/>
<rect x="130.0" y="131.0" width="284.0" height="3.5" fill="url(#r9)"/>
<rect x="130.0" y="134.0" width="284.0" height="3.5" fill="url(#r10)"/>
<rect x="130.0" y="137.0" width="284.0" height="3.5" fill="url(#r11)"/>
<rect x="130.0" y="140.0" width="284.0" height="3.5" fill="url(#r12)"/>
<rect x="130.0" y="143.0" width="284.0" height="3.5" fill="url(#r13)"/>
<rect x="130.0" y="146.0" width="284.0" height="3.5" fill="url(#r14)"/>
<rect x="130.0" y="149.0" width="284.0" height="3.5" fill="url(#r15)"/>
<rect x="130.0" y="152.0" width="284.0" height="3.5" fill="url(#r16)"/>
<rect x="130.0" y="155.0" width="284.0" height="3.5" fill="url(#r17)"/>
<rect x="130.0" y="158.0" width="284.0" height="3.5" fill="url(#r18)"/>
<rect x="130.0" y="161.0" width="284.0" height="3.5" fill="url(#r19)"/>
<rect x="130.0" y="164.0" width="284.0" height="3.5" fill="url(#r20)"/>
<rect x="130.0" y="167.0" width="284.0" height="3.5" fill="url(#r21)"/>
<rect x="130.0" y="170.0" width="284.0" height="3.5" fill="url(#r22)"/>
<rect x="130.0" y="173.0" width="284.0" height="3.5" fill="url(#r23)"/>
<rect x="130.0" y="176.0" width="284.0" height="3.5" fill="url(#r24)"/>
<rect x="130.0" y="179.0" width="284.0" height="3.5" fill="url(#r25)"/>
<rect x="130.0" y="182.0" width="284.0" height="3.5" fill="url(#r26)"/>
<rect x="130.0" y="185.0" width="284.0" height="3.5" fill="url(#r27)"/>
<rect x="130.0" y="188.0" width="284.0" height="3.5" fill="url(#r28)"/>
<rect x="130.0" y="191.0" width="284.0" height="3.5" fill="url(#r29)"/>
<rect x="130.0" y="194.0" width="284.0" height="3.5" fill="url(#r30)"/>
<rect x="130.0" y="197.0" width="284.0" height="3.5" fill="url(#r31)"/>
<rect x="130.0" y="200.0" width="284.0" height="3.5" fill="url(#r32)"/>
<rect x="130.0" y="203.0" width="284.0" height="3.5" fill="url(#r33)"/>
<rect x="130.0" y="206.0" width="284.0" height="3.5" fill="url(#r34)"/>
<rect x="130.0" y="209.0" width="284.0" height="3.5" fill="url(#r35)"/>
<rect x="130.0" y="212.0" width="284.0" height="3.5" fill="url(#r36)"/>
<rect x="130.0" y="215.0" width="284.0" height="3.5" fill="url(#r37)"/>
<rect x="130.0" y="218.0" width="284.0" height="3.5" fill="url(#r38)"/>
<rect x="130.0" y="221.0" width="284.0" height="3.5" fill="url(#r39)"/>
<rect x="130.0" y="224.0" width="284.0" height="3.5" fill="url(#r40)"/>
<rect x="130.0" y="227.0" width="284.0" height="3.5" fill="url(#r41)"/>
<rect x="130.0" y="230.0" width="284.0" height="3.5" fill="url(#r42)"/>
<rect x="130.0" y="233.0" width="284.0" height="3.5" fill="url(#r43)"/>
<rect x="130.0" y="236.0" width="284.0" height="3.5" fill="url(#r44)"/>
<rect x="130.0" y="239.0" width="284.0" height="3.5" fill="url(#r45)"/>
<rect x="130.0" y="242.0" width="284.0" height="3.5" fill="url(#r46)"/>
<rect x="130.0" y="245.0" width="284.0" height="3.5" fill="url(#r47)"/>
<rect x="130.0" y="248.0" width="284.0" height="3.5" fill="url(#r48)"/>
<rect x="130.0" y="251.0" width="284.0" height="3.5" fill="url(#r49)"/>
<rect x="130.0" y="254.0" width="284.0" height="3.5" fill="url(#r50)"/>
<rect x="130.0" y="257.0" width="284.0" height="3.5" fill="url(#r51)"/>
<rect x="130.0" y="260.0" width="284.0" height="3.5" fill="url(#r52)"/>
<rect x="130.0" y="263.0" width="284.0" height="3.5" fill="url(#r53)"/>
<rect x="130.0" y="266.0" width="284.0" height="3.5" fill="url(#r54)"/>
<rect x="130.0" y="269.0" width="284.0" height="3.5" fill="url(#r55)"/>
<rect x="130.0" y="272.0" width="284.0" height="3.5" fill="url(#r56)"/>
<rect x="130.0" y="275.0" width="284.0" height="3.5" fill="url(#r57)"/>
<rect x="130.0" y="278.0" width="284.0" height="3.5" fill="url(#r58)"/>
<rect x="130.0" y="281.0" width="284.0" height="3.5" fill="url(#r59)"/>
<rect x="130.0" y="284.0" width="284.0" height="3.5" fill="url(#r60)"/>
<rect x="130.0" y="287.0" width="284.0" height="3.5" fill="url(#r61)"/>
<rect x="130.0" y="290.0" width="284.0" height="3.5" fill="url(#r62)"/>
<rect x="130.0" y="293.0" width="284.0" height="3.5" fill="url(#r63)"/>
<rect x="130.0" y="296.0" width="284.0" height="3.5" fill="url(#r64)"/>
<rect x="130.0" y="299.0" width="284.0" height="3.5" fill="url(#r65)"/>
<rect x="130.0" y="302.0" width="284.0" height="3.5" fill="url(#r66)"/>
<rect x="130.0" y="305.0" width="284.0" height="3.5" fill="url(#r67)"/>
<rect x="130.0" y="308.0" width="284.0" height="3.5" fill="url(#r68)"/>
<rect x="130.0" y="311.0" width="284.0" height="3.5" fill="url(#r69)"/>
<rect x="130.0" y="314.0" width="284.0" height="3.5" fill="url(#r70)"/>
<rect x="130.0" y="317.0" width="284.0" height="3.5" fill="url(#r71)"/>
<rect x="130.0" y="320.0" width="284.0" height="3.5" fill="url(#r72)"/>
<rect x="130.0" y="323.0" width="284.0" height="3.5" fill="url(#r73)"/>
<rect x="130.0" y="326.0" width="284.0" height="3.5" fill="url(#r74)"/>
<rect x="130.0" y="329.0" width="284.0" height="3.5" fill="url(#r75)"/>
<rect x="130.0" y="332.0" width="284.0" height="3.5" fill="url(#r76)"/>
<rect x="130.0" y="335.0" width="284.0" height="3.5" fill="url(#r77)"/>
<rect x="130.0" y="338.0" width="284.0" height="3.5" fill="url(#r78)"/>
<rect x="130.0" y="341.0" width="284.0" height="3.5" fill="url(#r79)"/>
<rect x="130.0" y="344.0" width="284.0" height="3.5" fill="url(#r80)"/>
<rect x="130.0" y="347.0" width="284.0" height="3.5" fill="url(#r81)"/>
<rect x="130.0" y="350.0" width="284.0" height="3.5" fill="url(#r82)"/>
<rect x="130.0" y="353.0" width="284.0" height="3.5" fill="url(#r83)"/>
<rect x="130.0" y="356.0" width="284.0" height="3.5" fill="url(#r84)"/>
<rect x="130.0" y="359.0" width="284.0" height="3.5" fill="url(#r85)"/>
<rect x="130.0" y="362.0" width="284.0" height="3.5" fill="url(#r86)"/>
<rect x="130.0" y="365.0" width="284.0" height="3.5" fill="url(#r87)"/>
<rect x="130.0" y="368.0" width="284.0" height="3.5" fill="url(#r88)"/>
<rect x="130.0" y="371.0" width="284.0" height="3.5" fill="url(#r89)"/>
<rect x="130.0" y="374.0" width="284.0" height="3.5" fill="url(#r90)"/>
<rect x="130.0" y="377.0" width="284.0" height="3.5" fill="url(#r91)"/>
<rect x="130.0" y="380.0" width="284.0" height="3.5" fill="url(#r92)"/>
<rect x="130.0" y="383.0" width="284.0" height="3.5" fill="url(#r93)"/>
<rect x="130.0" y="386.0" width="284.0" height="3.5" fill="url(#r94)"/>
<rect x="130.0" y="389.0" width="284.0" height="3.5" fill="url(#r95)"/>
<rect x="130.0" y="392.0" width="284.0" height="3.5" fill="url(#r96)"/>
<rect x="130.0" y="395.0" width="284.0" height="3.5" fill="url(#r97)"/>
<rect x="130.0" y="398.0" width="284.0" height="3.5" fill="url(#r98)"/>
<rect x="130.0" y="401.0" width="284.0" height="3.5" fill="url(#r99)"/>
<rect x="130.0" y="404.0" width="284.0" height="3.5" fill="url(#r100)"/>
<rect x="130.0" y="407.0" width="284.0" height="3.5" fill="url(#r101)"/>
<rect x="130.0" y="410.0" width="284.0" height="3.5" fill="url(#r102)"/>
<rect x="130.0" y="413.0" width="284.0" height="3.5" fill="url(#r103)"/>
<rect x="130.0" y="416.0" width="284.0" height="3.5" fill="url(#r104)"/>
<rect x="130.0" y="419.0" width="284.0" height="3.5" fill="url(#r105)"/>
<rect x="130.0" y="422.0" width="284.0" height="3.5" fill="url(#r106)"/>
<rect x="130.0" y="425.0" width="284.0" height="3.5" fill="url(#r107)"/>
<rect x="130.0" y="428.0" width="284.0" height="3.5" fill="url(#r108)"/>
<rect x="130.0" y="431.0" width="284.0" height="3.5" fill="url(#r109)"/>
<rect x="130.0" y="434.0" width="284.0" height="3.5" fill="url(#r110)"/>
<rect x="130.0" y="437.0" width="284.0" height="3.5" fill="url(#r111)"/>
<rect x="130.0" y="440.0" width="284.0" height="3.5" fill="url(#r112)"/>
<rect x="130.0" y="443.0" width="284.0" height="3.5" fill="url(#r113)"/>
<rect x="130.0" y="446.0" width="284.0" height="3.5" fill="url(#r114)"/>
<rect x="130.0" y="449.0" width="284.0" height="3.5" fill="url(#r115)"/>
</g></g>
<g stroke="#808080" stroke-width="1" stroke-dasharray="1.4 5.1" fill="none">
<path d="M194.5 55.0V564.0"/>
<path d="M265.5 55.0V564.0"/>
<path d="M336.5 55.0V564.0"/>
<path d="M407.5 55.0V564.0"/>
<path d="M477.5 55.0V564.0"/>
<path d="M548.5 55.0V564.0"/>
<path d="M619.5 55.0V564.0"/>
<path d="M124.0 530.5H675.0"/>
<path d="M124.0 445.5H675.0"/>
<path d="M124.0 360.5H675.0"/>
<path d="M124.0 275.5H675.0"/>
<path d="M124.0 191.5H675.0"/>
<path d="M124.0 106.5H675.0"/>
</g>
<g stroke="#dcbcac" clip-path="url(#msk)" stroke-width="1" stroke-dasharray="1.4 5.1" fill="none">
<path d="M194.5 55.0V564.0"/>
<path d="M265.5 55.0V564.0"/>
<path d="M336.5 55.0V564.0"/>
<path d="M407.5 55.0V564.0"/>
<path d="M477.5 55.0V564.0"/>
<path d="M548.5 55.0V564.0"/>
<path d="M619.5 55.0V564.0"/>
<path d="M124.0 530.5H675.0"/>
<path d="M124.0 445.5H675.0"/>
<path d="M124.0 360.5H675.0"/>
<path d="M124.0 275.5H675.0"/>
<path d="M124.0 191.5H675.0"/>
<path d="M124.0 106.5H675.0"/>
</g>
<g fill="none" stroke="#000" stroke-width="3.1" stroke-linejoin="round" stroke-linecap="round">
<path d="M124.0 145.0 L132.0 149.0 L142.0 149.0 L148.0 152.4 L164.0 152.4 L166.0 150.0 L162.0 146.0 L171.0 136.0 L182.0 143.0 L189.0 142.4 L194.0 136.0 L204.0 131.0 L216.0 127.0 L224.0 121.0 L232.0 119.0 L238.0 116.0 L245.0 118.4 L252.0 116.0 L260.0 119.4 L268.0 121.0 L278.0 126.6 L283.0 130.0 L287.0 134.6 L289.0 139.0 L289.6 145.0 L289.6 153.0 L289.0 155.7"/>
<path d="M297.7 150.0 L294.0 154.5 L289.0 155.7 L283.2 155.5 L284.7 161.0 L289.2 165.0 L293.2 166.6 L289.2 171.0 L287.7 175.0 L287.7 190.0 L284.6 200.0 L283.0 212.5 L280.0 218.7 L275.0 222.5 L262.5 222.5 L250.0 225.0 L231.0 225.6 L223.0 226.4 L214.2 229.0 L205.0 234.2 L195.0 240.4 L192.4 235.0 L190.6 234.2 L200.0 230.6 L209.0 227.2 L216.0 225.6 L224.0 225.2"/>
<path d="M190.5 250.0 L186.0 252.0 L185.0 257.5 L181.5 263.6 L177.1 269.7 L171.0 276.7 L164.9 282.9 L157.9 289.0 L154.4 294.0 L152.7 298.7 L150.0 303.7 L144.0 305.0 L142.0 313.0 L144.0 320.0 L147.0 329.0 L142.0 335.0 L145.0 340.0 L147.0 350.0 L148.0 355.0 L147.6 364.0 L142.0 376.0 L135.6 394.0 L135.6 403.0 L133.0 412.0 L135.0 420.0 L135.6 431.0 L138.6 437.0 L137.0 444.0 L131.0 453.0 L124.0 460.0"/>
<path d="M350.0 55.0 L344.0 58.0 L338.0 63.0 L332.0 68.0 L324.0 74.0 L316.0 78.0 L312.0 81.0 L304.0 84.0 L300.0 89.0 L294.0 94.2 L287.0 101.2 L280.6 108.5 L282.6 114.0 L285.0 115.0 L289.0 111.0 L292.0 113.0 L296.0 116.5 L301.0 113.5 L299.0 121.0 L301.7 126.0 L303.2 132.0 L301.0 140.0 L298.0 147.0 L296.0 153.0 L294.0 154.5"/>
<path d="M284.6 55.0 L282.6 66.0 L279.6 76.0 L279.1 87.0 L280.6 96.0 L282.6 98.2 L289.0 98.5 L291.0 97.5"/>
<path d="M291.6 55.0 L291.6 72.0 L297.0 78.0 L298.0 87.0 L300.0 88.5"/>
<path d="M300.0 88.0 L304.0 83.0 L308.0 83.0 L314.0 77.0 L309.0 72.0 L312.0 65.0 L318.0 62.0 L321.0 61.0 L324.0 67.0 L328.0 63.0 L329.0 60.0 L328.0 55.0"/>
<path d="M190.2 188.7 L186.5 192.5 L179.0 198.7 L176.0 205.0 L179.0 212.5 L185.0 218.7 L186.5 226.0 L182.7 232.5 L171.5 235.6 L167.7 241.0 L164.9 251.4 L168.5 252.2 L173.6 250.5 L179.7 245.2 L181.0 239.5 L189.5 241.0 L193.5 246.5 L190.5 250.0 L186.0 250.5 L186.5 246.3 L189.0 244.3 L182.5 243.8 L178.0 247.3"/>
<path d="M190.2 188.7 L196.5 191.0 L205.0 192.5 L211.5 197.5 L204.0 202.5 L200.0 207.5 L202.7 216.0 L215.0 220.0 L214.2 226.4"/>
<path d="M177.1 251.4 L173.6 254.0 L164.9 258.4 L161.4 263.6 L159.6 275.0 L159.4 282.0 L162.2 275.0 L171.0 266.2 L181.5 261.9 L185.0 257.5"/>
<path d="M124.0 404.0 L135.6 403.0"/>
</g>
<path d="M324.7 115.6L327.1 90.5M328.7 94.5L327.1 90.5L324.8 94.1M359.1 115.6L361.1 110.2M361.6 114.5L361.1 110.2L357.9 113.1M393.5 115.6L386.5 121.0M388.3 117.1L386.5 121.0L390.7 120.2M324.7 145.9L322.1 125.8M324.5 129.3L322.1 125.8L320.7 129.9M359.1 145.9L361.1 141.5M361.3 145.8L361.1 141.5L357.7 144.2M393.5 145.9L390.5 148.5M392.1 144.5L390.5 148.5L394.7 147.5M290.7 171.3L296.1 180.0M292.4 177.8L296.1 180.0L295.7 175.7M324.7 176.2L329.8 156.6M330.7 160.8L329.8 156.6L326.9 159.8M359.1 176.2L364.1 162.6M364.6 166.9L364.1 162.6L360.9 165.5M393.5 176.5L409.0 175.5M405.3 177.7L409.0 175.5L405.1 173.8M286.6 206.5L291.6 206.5M287.8 208.5L291.6 206.5L287.8 204.5M324.7 206.5L346.8 178.4M346.0 182.6L346.8 178.4L342.9 180.2M359.1 206.5L373.1 196.4M371.1 200.2L373.1 196.4L368.9 197.1M393.5 206.5L401.5 204.5M398.3 207.3L401.5 204.5L397.3 203.5M221.5 236.5L223.0 235.5M220.9 239.2L223.0 235.5L218.7 236.0M255.9 236.8L274.8 228.0M272.2 231.4L274.8 228.0L270.5 227.8M290.3 236.8L324.2 213.5M322.1 217.3L324.2 213.5L319.9 214.1M324.7 236.8L344.7 228.4M341.9 231.7L344.7 228.4L340.4 228.1M359.1 236.5L366.9 236.5M363.1 238.5L366.9 236.5L363.1 234.5M393.5 236.8L393.1 229.4M395.3 233.1L393.1 229.4L391.4 233.3M191.2 267.5L187.2 266.5M191.4 265.5L187.2 266.5L190.4 269.3M221.5 267.1L230.3 249.1M230.4 253.4L230.3 249.1L226.9 251.7M255.9 267.1L263.3 256.1M262.8 260.4L263.3 256.1L259.5 258.2M290.3 267.1L307.8 246.2M306.8 250.4L307.8 246.2L303.8 247.9M324.7 267.1L340.7 264.7M337.2 267.2L340.7 264.7L336.6 263.3M359.1 267.1L367.1 278.9M363.3 276.8L367.1 278.9L366.6 274.6M393.5 267.5L389.5 266.5M393.7 265.5L389.5 266.5L392.7 269.3M187.1 297.4L194.9 281.9M194.9 286.2L194.9 281.9L191.4 284.4M221.5 297.4L226.3 281.4M227.1 285.6L226.3 281.4L223.3 284.5M255.9 297.4L265.7 278.7M265.7 283.0L265.7 278.7L262.2 281.2M290.3 297.4L311.2 271.7M310.3 275.9L311.2 271.7L307.3 273.4M324.7 297.4L352.8 285.4M350.0 288.7L352.8 285.4L348.5 285.1M359.1 297.4L382.6 309.4M378.3 309.4L382.6 309.4L380.1 305.9M393.5 297.4L410.5 293.8M407.2 296.5L410.5 293.8L406.3 292.7M152.7 327.7L154.2 325.7M153.5 329.9L154.2 325.7L150.3 327.6M187.1 327.7L193.5 300.7M194.5 304.9L193.5 300.7L190.7 304.0M221.5 327.7L229.3 312.0M229.3 316.3L229.3 312.0L225.8 314.6M255.9 327.7L271.4 300.7M271.2 305.0L271.4 300.7L267.8 303.1M290.3 327.7L311.2 299.8M310.5 304.0L311.2 299.8L307.3 301.7M324.7 327.7L345.2 311.4M343.4 315.3L345.2 311.4L341.0 312.3M359.1 327.5L366.3 328.5M362.2 329.9L366.3 328.5L362.8 326.0M393.5 327.7L397.5 313.4M398.3 317.6L397.5 313.4L394.6 316.6M152.7 358.0L151.0 332.6M153.2 336.3L151.0 332.6L149.3 336.6M187.1 358.0L185.4 329.4M187.6 333.1L185.4 329.4L183.7 333.3M221.5 358.0L227.8 331.4M228.8 335.6L227.8 331.4L225.0 334.7M255.9 358.0L264.3 326.4M265.2 330.6L264.3 326.4L261.4 329.6M290.3 358.0L294.1 334.5M295.4 338.6L294.1 334.5L291.6 338.0M324.7 358.0L318.3 348.8M322.1 350.8L318.3 348.8L318.9 353.1M359.1 358.5L343.8 358.5M347.6 356.5L343.8 358.5L347.6 360.5M393.5 358.0L373.8 341.5M378.0 342.5L373.8 341.5L375.5 345.5M152.7 388.3L153.9 368.3M155.6 372.2L153.9 368.3L151.7 372.0M187.1 388.3L181.9 351.2M184.4 354.7L181.9 351.2L180.5 355.3M221.5 388.3L214.7 356.2M217.4 359.5L214.7 356.2L213.6 360.4M255.9 388.3L243.2 369.2M246.9 371.3L243.2 369.2L243.7 373.5M290.3 388.3L277.0 368.6M280.8 370.7L277.0 368.6L277.5 372.9M324.7 388.3L310.2 378.3M314.5 378.9L310.2 378.3L312.2 382.1M359.1 388.3L338.4 381.7M342.6 381.0L338.4 381.7L341.5 384.7M393.5 388.3L356.8 377.1M361.0 376.4L356.8 377.1L359.9 380.1M152.7 418.6L147.5 399.3M150.4 402.5L147.5 399.3L146.6 403.5M187.1 418.6L177.9 387.3M180.9 390.4L177.9 387.3L177.1 391.5M221.5 418.6L201.6 400.3M205.7 401.5L201.6 400.3L203.1 404.3M255.9 418.6L232.6 400.3M236.8 401.1L232.6 400.3L234.4 404.2M290.3 418.6L262.6 385.9M266.6 387.6L262.6 385.9L263.6 390.1M324.7 418.6L286.1 388.3M290.3 389.1L286.1 388.3L287.9 392.2M359.1 418.6L308.3 406.8M312.5 405.8L308.3 406.8L311.6 409.6M393.5 418.6L333.3 414.0M337.3 412.3L333.3 414.0L337.0 416.2M152.7 448.4L147.4 445.9M151.7 445.8L147.4 445.9L150.0 449.3M187.1 448.4L172.4 444.6M176.6 443.7L172.4 444.6L175.6 447.4M221.5 448.4L194.6 444.0M198.7 442.7L194.6 444.0L198.1 446.5M255.9 448.4L222.2 429.9M226.5 430.0L222.2 429.9L224.6 433.5M290.3 448.4L243.1 423.9M247.4 423.9L243.1 423.9L245.6 427.4M324.7 448.4L254.9 431.9M259.1 430.9L254.9 431.9L258.2 434.7M359.1 448.4L297.3 444.0M301.3 442.3L297.3 444.0L301.0 446.2M393.5 448.4L336.7 440.5M340.8 439.1L336.7 440.5L340.2 443.0" fill="none" stroke="#000" stroke-width="0.95" stroke-linecap="butt" stroke-linejoin="miter"/>
<rect x="124.0" y="55.0" width="551.0" height="509.0" fill="none" stroke="#000" stroke-width="2" shape-rendering="crispEdges"/>
<g stroke="#000" stroke-width="1" shape-rendering="crispEdges">
<path d="M123.5 564.0V567.7"/>
<path d="M194.5 564.0V567.7"/>
<path d="M265.5 564.0V567.7"/>
<path d="M336.5 564.0V567.7"/>
<path d="M407.5 564.0V567.7"/>
<path d="M477.5 564.0V567.7"/>
<path d="M548.5 564.0V567.7"/>
<path d="M619.5 564.0V567.7"/>
<path d="M124.0 530.5H120"/>
<path d="M124.0 445.5H120"/>
<path d="M124.0 360.5H120"/>
<path d="M124.0 275.5H120"/>
<path d="M124.0 191.5H120"/>
<path d="M124.0 106.5H120"/>
</g>
<g font-size="14.1" fill="#000">
<text x="112.6" y="580" textLength="23.2" lengthAdjust="spacingAndGlyphs">28.5</text>
<text x="188.7" y="580" textLength="12.9" lengthAdjust="spacingAndGlyphs">29</text>
<text x="254.3" y="580" textLength="23.2" lengthAdjust="spacingAndGlyphs">29.5</text>
<text x="330.3" y="580" textLength="12.9" lengthAdjust="spacingAndGlyphs">30</text>
<text x="396.0" y="580" textLength="23.2" lengthAdjust="spacingAndGlyphs">30.5</text>
<text x="472.0" y="580" textLength="12.9" lengthAdjust="spacingAndGlyphs">31</text>
<text x="537.7" y="580" textLength="23.2" lengthAdjust="spacingAndGlyphs">31.5</text>
<text x="613.7" y="580" textLength="12.9" lengthAdjust="spacingAndGlyphs">32</text>
<text x="104.1" y="535.5" textLength="12.9" lengthAdjust="spacingAndGlyphs">43</text>
<text x="93.8" y="450.7" textLength="23.2" lengthAdjust="spacingAndGlyphs">43.5</text>
<text x="104.1" y="365.8" textLength="12.9" lengthAdjust="spacingAndGlyphs">44</text>
<text x="93.8" y="281.0" textLength="23.2" lengthAdjust="spacingAndGlyphs">44.5</text>
<text x="104.1" y="196.2" textLength="12.9" lengthAdjust="spacingAndGlyphs">45</text>
<text x="93.8" y="111.3" textLength="23.2" lengthAdjust="spacingAndGlyphs">45.5</text>
</g>
<g font-size="24.5" fill="#000">
<text x="19" y="42.4" textLength="82.5" lengthAdjust="spacingAndGlyphs">Current</text>
<text x="115.25" y="42.4" textLength="80.0" lengthAdjust="spacingAndGlyphs">velocity</text>
<text x="212.5" y="42.4" textLength="76.25" lengthAdjust="spacingAndGlyphs">(m/s).</text>
<text x="302.5" y="42.4" textLength="48.75" lengthAdjust="spacingAndGlyphs">Date</text>
<text x="367.5" y="42.4" textLength="135.0" lengthAdjust="spacingAndGlyphs">2016.07.13.</text>
<text x="517.5" y="42.4" textLength="50.0" lengthAdjust="spacingAndGlyphs">Time</text>
<text x="583.75" y="42.4" textLength="140.0" lengthAdjust="spacingAndGlyphs">00(h):00(m)</text>
<text x="740" y="42.4" textLength="41.25" lengthAdjust="spacingAndGlyphs">GMT</text>
</g>
<g font-size="19.6" fill="#000" stroke="#000" stroke-width="0.4"><text x="323.8" y="606" textLength="85" lengthAdjust="spacingAndGlyphs">Langitude</text><text x="422.5" y="606" textLength="53.8" lengthAdjust="spacingAndGlyphs">(East)</text><text transform="translate(81 382.8) rotate(-90)" textLength="72.5" lengthAdjust="spacingAndGlyphs">Latitude</text><text transform="translate(81 298.7) rotate(-90)" textLength="61" lengthAdjust="spacingAndGlyphs">(North)</text></g>
<g font-size="18.5" fill="#3a3a3a"><text x="146.4" y="109.8" textLength="12.6" lengthAdjust="spacingAndGlyphs">Z</text><text x="175.3" y="109.8" textLength="14.3" lengthAdjust="spacingAndGlyphs">=</text><text x="206.6" y="109.8" textLength="34" lengthAdjust="spacing">2.5</text><text x="256.8" y="109.8" textLength="17.6" lengthAdjust="spacingAndGlyphs">m</text></g>
<g shape-rendering="crispEdges">
<rect x="708.0" y="550.31" width="16.0" height="6.59" fill="#0047ff"/>
<rect x="708.0" y="544.11" width="16.0" height="6.59" fill="#0047ff"/>
<rect x="708.0" y="537.92" width="16.0" height="6.59" fill="#0047ff"/>
<rect x="708.0" y="531.73" width="16.0" height="6.59" fill="#0047ff"/>
<rect x="708.0" y="525.53" width="16.0" height="6.59" fill="#0047ff"/>
<rect x="708.0" y="519.34" width="16.0" height="6.59" fill="#0047ff"/>
<rect x="708.0" y="513.14" width="16.0" height="6.59" fill="#0047ff"/>
<rect x="708.0" y="506.95" width="16.0" height="6.59" fill="#0047ff"/>
<rect x="708.0" y="500.76" width="16.0" height="6.59" fill="#0047ff"/>
<rect x="708.0" y="494.56" width="16.0" height="6.59" fill="#0047ff"/>
<rect x="708.0" y="488.37" width="16.0" height="6.59" fill="#0047ff"/>
<rect x="708.0" y="482.18" width="16.0" height="6.59" fill="#0047ff"/>
<rect x="708.0" y="475.98" width="16.0" height="6.59" fill="#0047ff"/>
<rect x="708.0" y="469.79" width="16.0" height="6.59" fill="#0047ff"/>
<rect x="708.0" y="463.59" width="16.0" height="6.59" fill="#0047ff"/>
<rect x="708.0" y="457.40" width="16.0" height="6.59" fill="#0047ff"/>
<rect x="708.0" y="451.21" width="16.0" height="6.59" fill="#0053ff"/>
<rect x="708.0" y="445.01" width="16.0" height="6.59" fill="#0060ff"/>
<rect x="708.0" y="438.82" width="16.0" height="6.59" fill="#006cff"/>
<rect x="708.0" y="432.62" width="16.0" height="6.59" fill="#0079ff"/>
<rect x="708.0" y="426.43" width="16.0" height="6.59" fill="#0086ff"/>
<rect x="708.0" y="420.24" width="16.0" height="6.59" fill="#0093ff"/>
<rect x="708.0" y="414.04" width="16.0" height="6.59" fill="#009fff"/>
<rect x="708.0" y="407.85" width="16.0" height="6.59" fill="#00acff"/>
<rect x="708.0" y="401.66" width="16.0" height="6.59" fill="#00b9ff"/>
<rect x="708.0" y="395.46" width="16.0" height="6.59" fill="#00c6ff"/>
<rect x="708.0" y="389.27" width="16.0" height="6.59" fill="#00d2ff"/>
<rect x="708.0" y="383.08" width="16.0" height="6.59" fill="#00dfff"/>
<rect x="708.0" y="376.88" width="16.0" height="6.59" fill="#00ecff"/>
<rect x="708.0" y="370.69" width="16.0" height="6.59" fill="#00f9ff"/>
<rect x="708.0" y="364.49" width="16.0" height="6.59" fill="#06fff9"/>
<rect x="708.0" y="358.30" width="16.0" height="6.59" fill="#13ffec"/>
<rect x="708.0" y="352.11" width="16.0" height="6.59" fill="#20ffdf"/>
<rect x="708.0" y="345.91" width="16.0" height="6.59" fill="#2dffd2"/>
<rect x="708.0" y="339.72" width="16.0" height="6.59" fill="#39ffc6"/>
<rect x="708.0" y="333.52" width="16.0" height="6.59" fill="#46ffb9"/>
<rect x="708.0" y="327.33" width="16.0" height="6.59" fill="#53ffac"/>
<rect x="708.0" y="321.14" width="16.0" height="6.59" fill="#60ff9f"/>
<rect x="708.0" y="314.94" width="16.0" height="6.59" fill="#6cff93"/>
<rect x="708.0" y="308.75" width="16.0" height="6.59" fill="#79ff86"/>
<rect x="708.0" y="302.56" width="16.0" height="6.59" fill="#86ff79"/>
<rect x="708.0" y="296.36" width="16.0" height="6.59" fill="#93ff6c"/>
<rect x="708.0" y="290.17" width="16.0" height="6.59" fill="#9fff60"/>
<rect x="708.0" y="283.98" width="16.0" height="6.59" fill="#acff53"/>
<rect x="708.0" y="277.78" width="16.0" height="6.59" fill="#b9ff46"/>
<rect x="708.0" y="271.59" width="16.0" height="6.59" fill="#c6ff39"/>
<rect x="708.0" y="265.39" width="16.0" height="6.59" fill="#d2ff2d"/>
<rect x="708.0" y="259.20" width="16.0" height="6.59" fill="#dfff20"/>
<rect x="708.0" y="253.01" width="16.0" height="6.59" fill="#ecff13"/>
<rect x="708.0" y="246.81" width="16.0" height="6.59" fill="#f9ff06"/>
<rect x="708.0" y="240.62" width="16.0" height="6.59" fill="#fff900"/>
<rect x="708.0" y="234.43" width="16.0" height="6.59" fill="#ffec00"/>
<rect x="708.0" y="228.23" width="16.0" height="6.59" fill="#ffdf00"/>
<rect x="708.0" y="222.04" width="16.0" height="6.59" fill="#ffd200"/>
<rect x="708.0" y="215.84" width="16.0" height="6.59" fill="#ffc600"/>
<rect x="708.0" y="209.65" width="16.0" height="6.59" fill="#ffb900"/>
<rect x="708.0" y="203.46" width="16.0" height="6.59" fill="#ffac00"/>
<rect x="708.0" y="197.26" width="16.0" height="6.59" fill="#ff9f00"/>
<rect x="708.0" y="191.07" width="16.0" height="6.59" fill="#ff9300"/>
<rect x="708.0" y="184.88" width="16.0" height="6.59" fill="#ff8600"/>
<rect x="708.0" y="178.68" width="16.0" height="6.59" fill="#ff7900"/>
<rect x="708.0" y="172.49" width="16.0" height="6.59" fill="#ff6c00"/>
<rect x="708.0" y="166.29" width="16.0" height="6.59" fill="#ff6000"/>
<rect x="708.0" y="160.10" width="16.0" height="6.59" fill="#ff5300"/>
<rect x="708.0" y="153.91" width="16.0" height="6.59" fill="#ff4600"/>
<rect x="708.0" y="147.71" width="16.0" height="6.59" fill="#ff3900"/>
<rect x="708.0" y="141.52" width="16.0" height="6.59" fill="#ff2d00"/>
<rect x="708.0" y="135.33" width="16.0" height="6.59" fill="#ff2000"/>
<rect x="708.0" y="129.13" width="16.0" height="6.59" fill="#ff1300"/>
<rect x="708.0" y="122.94" width="16.0" height="6.59" fill="#ff0600"/>
<rect x="708.0" y="116.74" width="16.0" height="6.59" fill="#f90000"/>
<rect x="708.0" y="110.55" width="16.0" height="6.59" fill="#ec0000"/>
<rect x="708.0" y="104.36" width="16.0" height="6.59" fill="#df0000"/>
<rect x="708.0" y="98.16" width="16.0" height="6.59" fill="#d20000"/>
<rect x="708.0" y="91.97" width="16.0" height="6.59" fill="#c60000"/>
<rect x="708.0" y="85.78" width="16.0" height="6.59" fill="#b90000"/>
<rect x="708.0" y="79.58" width="16.0" height="6.59" fill="#ac0000"/>
<rect x="708.0" y="73.39" width="16.0" height="6.59" fill="#9f0000"/>
<rect x="708.0" y="67.19" width="16.0" height="6.59" fill="#930000"/>
<rect x="708.0" y="61.00" width="16.0" height="6.59" fill="#860000"/>
</g>
<g font-size="14.1" fill="#000">
<text x="735" y="73.8" textLength="29" lengthAdjust="spacingAndGlyphs">0.28</text>
<text x="735" y="189.8" textLength="29" lengthAdjust="spacingAndGlyphs">0.21</text>
<text x="735" y="311.8" textLength="29" lengthAdjust="spacingAndGlyphs">0.14</text>
<text x="735" y="433.8" textLength="29" lengthAdjust="spacingAndGlyphs">0.07</text>
<text x="735" y="556.4" textLength="29" lengthAdjust="spacingAndGlyphs">0.00</text>
</g>
</svg>
</body>
</html>
